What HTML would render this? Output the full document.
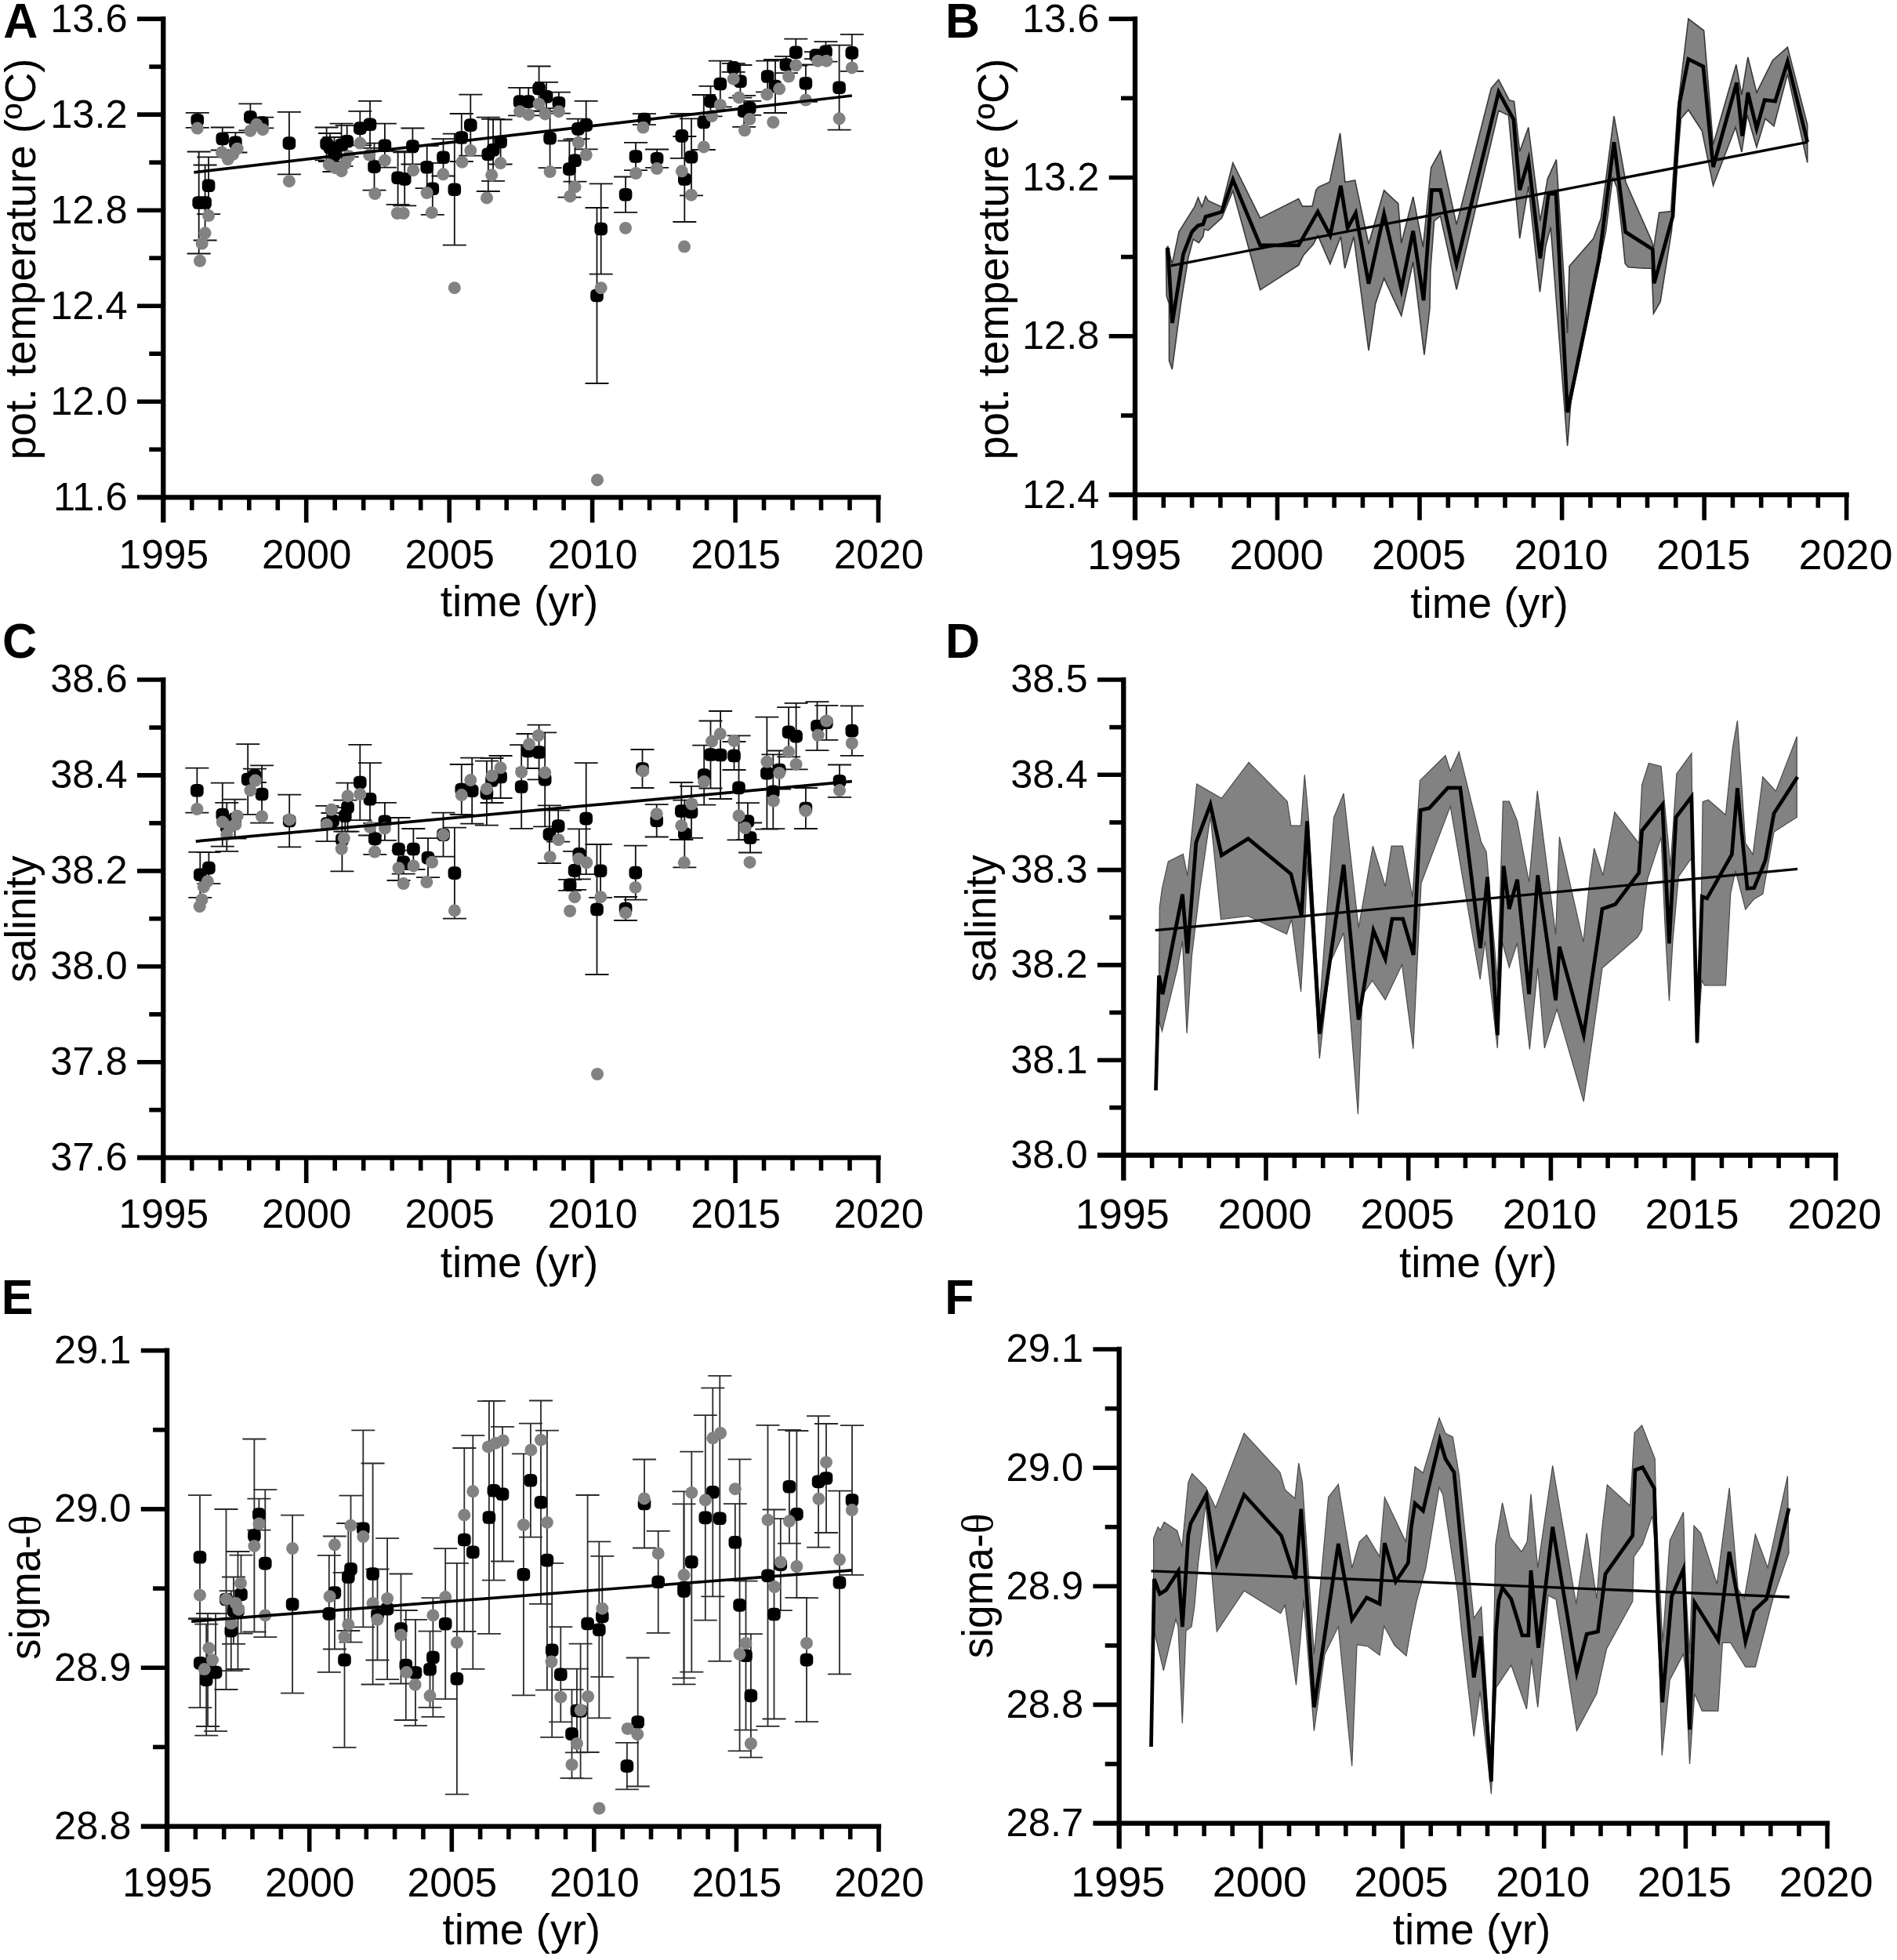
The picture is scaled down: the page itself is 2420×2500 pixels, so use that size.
<!DOCTYPE html>
<html lang="en"><head><meta charset="utf-8"><title>Figure</title>
<style>html,body{margin:0;padding:0;background:#fff}svg{display:block}</style></head>
<body>
<svg width="2420" height="2500" viewBox="0 0 2420 2500">
<rect width="2420" height="2500" fill="#fff"/>
<g stroke="#111" stroke-width="1.8" fill="none">
<path d="M251.8 143.8V162.8M236.8 143.8H266.8M236.8 162.8H266.8"/>
<path d="M283.8 162.5V191.5M268.8 162.5H298.8M268.8 191.5H298.8"/>
<path d="M300.4 169.1V194.5M285.4 169.1H315.4M285.4 194.5H315.4"/>
<path d="M319.4 132.4V166.4M304.4 132.4H334.4M304.4 166.4H334.4"/>
<path d="M334.4 149.6V163.4M319.4 149.6H349.4M319.4 163.4H349.4"/>
<path d="M368.9 142.9V222.3M353.9 142.9H383.9M353.9 222.3H383.9"/>
<path d="M416.6 162.5V204.3M401.6 162.5H431.6M401.6 204.3H431.6"/>
<path d="M421.0 170.0V206.0M406.0 170.0H436.0M406.0 206.0H436.0"/>
<path d="M426.5 175.0V219.0M411.5 175.0H441.5M411.5 219.0H441.5"/>
<path d="M435.6 157.7V212.1M420.6 157.7H450.6M420.6 212.1H450.6"/>
<path d="M442.7 160.2V200.2M427.7 160.2H457.7M427.7 200.2H457.7"/>
<path d="M459.3 141.9V185.3M444.3 141.9H474.3M444.3 185.3H474.3"/>
<path d="M472.0 128.8V188.8M457.0 128.8H487.0M457.0 188.8H487.0"/>
<path d="M490.9 157.7V213.7M475.9 157.7H505.9M475.9 213.7H505.9"/>
<path d="M477.5 182.6V242.6M462.5 182.6H492.5M462.5 242.6H492.5"/>
<path d="M507.6 192.8V260.8M492.6 192.8H522.6M492.6 260.8H522.6"/>
<path d="M516.2 194.4V262.4M501.2 194.4H531.2M501.2 262.4H531.2"/>
<path d="M526.4 163.5V209.5M511.4 163.5H541.4M511.4 209.5H541.4"/>
<path d="M266.1 200.3V273.1M251.1 200.3H281.1M251.1 273.1H281.1"/>
<path d="M253.7 193.5V323.5M238.7 193.5H268.7M238.7 323.5H268.7"/>
<path d="M261.6 210.5V306.5M246.6 210.5H276.6M246.6 306.5H276.6"/>
<path d="M544.7 186.2V240.2M529.7 186.2H559.7M529.7 240.2H559.7"/>
<path d="M565.5 177.1V224.5M550.5 177.1H580.5M550.5 224.5H580.5"/>
<path d="M551.8 207.8V273.8M536.8 207.8H566.8M536.8 273.8H566.8"/>
<path d="M579.8 170.7V312.7M564.8 170.7H594.8M564.8 312.7H594.8"/>
<path d="M588.8 145.0V206.0M573.8 145.0H603.8M573.8 206.0H603.8"/>
<path d="M600.3 120.6V198.6M585.3 120.6H615.3M585.3 198.6H615.3"/>
<path d="M622.8 149.6V244.0M607.8 149.6H637.8M607.8 244.0H637.8"/>
<path d="M629.1 151.8V230.8M614.1 151.8H644.1M614.1 230.8H644.1"/>
<path d="M638.6 152.5V209.5M623.6 152.5H653.6M623.6 209.5H653.6"/>
<path d="M663.1 111.9V147.3M648.1 111.9H678.1M648.1 147.3H678.1"/>
<path d="M674.2 111.9V147.3M659.2 111.9H689.2M659.2 147.3H689.2"/>
<path d="M687.6 84.5V141.5M672.6 84.5H702.6M672.6 141.5H702.6"/>
<path d="M697.1 104.8V141.8M682.1 104.8H712.1M682.1 141.8H712.1"/>
<path d="M712.9 117.7V144.7M697.9 117.7H727.9M697.9 144.7H727.9"/>
<path d="M701.6 138.2V214.2M686.6 138.2H716.6M686.6 214.2H716.6"/>
<path d="M737.5 151.7V177.1M722.5 151.7H752.5M722.5 177.1H752.5"/>
<path d="M747.7 128.8V190.4M732.7 128.8H762.7M732.7 190.4H762.7"/>
<path d="M733.5 177.7V231.7M718.5 177.7H748.5M718.5 231.7H748.5"/>
<path d="M726.4 179.6V251.6M711.4 179.6H741.4M711.4 251.6H741.4"/>
<path d="M811.0 181.8V217.2M796.0 181.8H826.0M796.0 217.2H826.0"/>
<path d="M798.1 225.5V270.9M783.1 225.5H813.1M783.1 270.9H813.1"/>
<path d="M821.9 145.1V159.1M806.9 145.1H836.9M806.9 159.1H836.9"/>
<path d="M838.1 190.5V213.9M823.1 190.5H853.1M823.1 213.9H853.1"/>
<path d="M869.8 144.9V201.9M854.8 144.9H884.8M854.8 201.9H884.8"/>
<path d="M882.0 151.3V249.3M867.0 151.3H897.0M867.0 249.3H897.0"/>
<path d="M873.3 174.0V283.0M858.3 174.0H888.3M858.3 283.0H888.3"/>
<path d="M897.8 121.0V191.0M882.8 121.0H912.8M882.8 191.0H912.8"/>
<path d="M906.5 109.8V148.4M891.5 109.8H921.5M891.5 148.4H921.5"/>
<path d="M918.8 77.7V136.3M903.8 77.7H933.8M903.8 136.3H933.8"/>
<path d="M935.7 80.9V91.9M920.7 80.9H950.7M920.7 91.9H950.7"/>
<path d="M944.4 83.0V124.6M929.4 83.0H959.4M929.4 124.6H959.4"/>
<path d="M949.2 121.8V161.8M934.2 121.8H964.2M934.2 161.8H964.2"/>
<path d="M956.3 128.8V146.8M941.3 128.8H971.3M941.3 146.8H971.3"/>
<path d="M979.2 77.7V117.3M964.2 77.7H994.2M964.2 117.3H994.2"/>
<path d="M989.0 76.0V144.0M974.0 76.0H1004.0M974.0 144.0H1004.0"/>
<path d="M1002.9 71.9V93.1M987.9 71.9H1017.9M987.9 93.1H1017.9"/>
<path d="M1015.3 49.7V83.7M1000.3 49.7H1030.3M1000.3 83.7H1030.3"/>
<path d="M1027.9 82.5V129.9M1012.9 82.5H1042.9M1012.9 129.9H1042.9"/>
<path d="M1040.9 66.1V75.1M1025.9 66.1H1055.9M1025.9 75.1H1055.9"/>
<path d="M1053.5 53.2V78.6M1038.5 53.2H1068.5M1038.5 78.6H1068.5"/>
<path d="M1070.6 57.7V165.7M1055.6 57.7H1085.6M1055.6 165.7H1085.6"/>
<path d="M1086.8 43.9V90.9M1071.8 43.9H1101.8M1071.8 90.9H1101.8"/>
<path d="M766.7 234.3V349.7M751.7 234.3H781.7M751.7 349.7H781.7"/>
<path d="M761.5 265.0V489.0M746.5 265.0H776.5M746.5 489.0H776.5"/>
</g>
<g fill="#000">
<rect x="243.5" y="145.0" width="16.6" height="16.6" rx="5.5"/>
<rect x="275.5" y="168.7" width="16.6" height="16.6" rx="5.5"/>
<rect x="292.1" y="173.5" width="16.6" height="16.6" rx="5.5"/>
<rect x="311.1" y="141.1" width="16.6" height="16.6" rx="5.5"/>
<rect x="326.1" y="148.2" width="16.6" height="16.6" rx="5.5"/>
<rect x="360.6" y="174.3" width="16.6" height="16.6" rx="5.5"/>
<rect x="408.3" y="175.1" width="16.6" height="16.6" rx="5.5"/>
<rect x="412.7" y="179.7" width="16.6" height="16.6" rx="5.5"/>
<rect x="418.2" y="188.7" width="16.6" height="16.6" rx="5.5"/>
<rect x="427.3" y="176.6" width="16.6" height="16.6" rx="5.5"/>
<rect x="434.4" y="171.9" width="16.6" height="16.6" rx="5.5"/>
<rect x="451.0" y="155.3" width="16.6" height="16.6" rx="5.5"/>
<rect x="463.7" y="150.5" width="16.6" height="16.6" rx="5.5"/>
<rect x="482.6" y="177.4" width="16.6" height="16.6" rx="5.5"/>
<rect x="469.2" y="204.3" width="16.6" height="16.6" rx="5.5"/>
<rect x="499.3" y="218.5" width="16.6" height="16.6" rx="5.5"/>
<rect x="507.9" y="220.1" width="16.6" height="16.6" rx="5.5"/>
<rect x="518.1" y="178.2" width="16.6" height="16.6" rx="5.5"/>
<rect x="257.8" y="228.4" width="16.6" height="16.6" rx="5.5"/>
<rect x="245.4" y="250.2" width="16.6" height="16.6" rx="5.5"/>
<rect x="253.3" y="250.2" width="16.6" height="16.6" rx="5.5"/>
<rect x="536.4" y="204.9" width="16.6" height="16.6" rx="5.5"/>
<rect x="557.2" y="192.5" width="16.6" height="16.6" rx="5.5"/>
<rect x="543.5" y="232.5" width="16.6" height="16.6" rx="5.5"/>
<rect x="571.5" y="233.4" width="16.6" height="16.6" rx="5.5"/>
<rect x="580.5" y="167.2" width="16.6" height="16.6" rx="5.5"/>
<rect x="592.0" y="151.3" width="16.6" height="16.6" rx="5.5"/>
<rect x="614.5" y="188.5" width="16.6" height="16.6" rx="5.5"/>
<rect x="620.8" y="183.0" width="16.6" height="16.6" rx="5.5"/>
<rect x="630.3" y="172.7" width="16.6" height="16.6" rx="5.5"/>
<rect x="654.8" y="121.3" width="16.6" height="16.6" rx="5.5"/>
<rect x="665.9" y="121.3" width="16.6" height="16.6" rx="5.5"/>
<rect x="679.3" y="104.7" width="16.6" height="16.6" rx="5.5"/>
<rect x="688.8" y="115.0" width="16.6" height="16.6" rx="5.5"/>
<rect x="704.6" y="122.9" width="16.6" height="16.6" rx="5.5"/>
<rect x="693.3" y="167.9" width="16.6" height="16.6" rx="5.5"/>
<rect x="729.2" y="156.1" width="16.6" height="16.6" rx="5.5"/>
<rect x="739.4" y="151.3" width="16.6" height="16.6" rx="5.5"/>
<rect x="725.2" y="196.4" width="16.6" height="16.6" rx="5.5"/>
<rect x="718.1" y="207.3" width="16.6" height="16.6" rx="5.5"/>
<rect x="802.7" y="191.2" width="16.6" height="16.6" rx="5.5"/>
<rect x="789.8" y="239.9" width="16.6" height="16.6" rx="5.5"/>
<rect x="813.6" y="143.8" width="16.6" height="16.6" rx="5.5"/>
<rect x="829.8" y="193.9" width="16.6" height="16.6" rx="5.5"/>
<rect x="861.5" y="165.1" width="16.6" height="16.6" rx="5.5"/>
<rect x="873.7" y="192.0" width="16.6" height="16.6" rx="5.5"/>
<rect x="865.0" y="220.2" width="16.6" height="16.6" rx="5.5"/>
<rect x="889.5" y="147.7" width="16.6" height="16.6" rx="5.5"/>
<rect x="898.2" y="120.8" width="16.6" height="16.6" rx="5.5"/>
<rect x="910.5" y="98.7" width="16.6" height="16.6" rx="5.5"/>
<rect x="927.4" y="78.1" width="16.6" height="16.6" rx="5.5"/>
<rect x="936.1" y="95.5" width="16.6" height="16.6" rx="5.5"/>
<rect x="940.9" y="133.5" width="16.6" height="16.6" rx="5.5"/>
<rect x="948.0" y="129.5" width="16.6" height="16.6" rx="5.5"/>
<rect x="970.9" y="89.2" width="16.6" height="16.6" rx="5.5"/>
<rect x="980.7" y="101.7" width="16.6" height="16.6" rx="5.5"/>
<rect x="994.6" y="74.2" width="16.6" height="16.6" rx="5.5"/>
<rect x="1007.0" y="58.4" width="16.6" height="16.6" rx="5.5"/>
<rect x="1019.6" y="97.9" width="16.6" height="16.6" rx="5.5"/>
<rect x="1032.6" y="62.3" width="16.6" height="16.6" rx="5.5"/>
<rect x="1045.2" y="57.6" width="16.6" height="16.6" rx="5.5"/>
<rect x="1062.3" y="103.4" width="16.6" height="16.6" rx="5.5"/>
<rect x="1078.5" y="59.1" width="16.6" height="16.6" rx="5.5"/>
<rect x="758.4" y="283.7" width="16.6" height="16.6" rx="5.5"/>
<rect x="753.2" y="368.7" width="16.6" height="16.6" rx="5.5"/>
</g>
<g fill="#828282">
<circle cx="251.8" cy="163.6" r="8"/>
<circle cx="283.0" cy="194.4" r="8"/>
<circle cx="290.9" cy="203.1" r="8"/>
<circle cx="297.2" cy="196.8" r="8"/>
<circle cx="302.7" cy="189.7" r="8"/>
<circle cx="319.4" cy="166.8" r="8"/>
<circle cx="327.3" cy="158.8" r="8"/>
<circle cx="335.2" cy="165.2" r="8"/>
<circle cx="368.9" cy="231.2" r="8"/>
<circle cx="419.8" cy="210.2" r="8"/>
<circle cx="427.7" cy="214.2" r="8"/>
<circle cx="435.6" cy="218.2" r="8"/>
<circle cx="440.3" cy="208.7" r="8"/>
<circle cx="445.1" cy="199.2" r="8"/>
<circle cx="459.3" cy="182.6" r="8"/>
<circle cx="471.2" cy="197.6" r="8"/>
<circle cx="490.9" cy="204.7" r="8"/>
<circle cx="478.3" cy="247.0" r="8"/>
<circle cx="527.2" cy="217.2" r="8"/>
<circle cx="266.1" cy="275.1" r="8"/>
<circle cx="261.6" cy="297.3" r="8"/>
<circle cx="257.7" cy="310.7" r="8"/>
<circle cx="255.0" cy="332.8" r="8"/>
<circle cx="506.8" cy="272.0" r="8"/>
<circle cx="514.7" cy="272.0" r="8"/>
<circle cx="544.6" cy="246.0" r="8"/>
<circle cx="565.4" cy="222.3" r="8"/>
<circle cx="589.5" cy="206.7" r="8"/>
<circle cx="600.3" cy="192.1" r="8"/>
<circle cx="638.4" cy="208.1" r="8"/>
<circle cx="627.2" cy="223.3" r="8"/>
<circle cx="621.0" cy="252.4" r="8"/>
<circle cx="663.1" cy="142.2" r="8"/>
<circle cx="674.2" cy="146.2" r="8"/>
<circle cx="687.6" cy="132.7" r="8"/>
<circle cx="695.5" cy="145.4" r="8"/>
<circle cx="712.9" cy="142.2" r="8"/>
<circle cx="701.6" cy="219.0" r="8"/>
<circle cx="737.9" cy="181.8" r="8"/>
<circle cx="747.7" cy="197.5" r="8"/>
<circle cx="733.5" cy="238.4" r="8"/>
<circle cx="727.2" cy="250.4" r="8"/>
<circle cx="811.2" cy="221.0" r="8"/>
<circle cx="820.4" cy="162.5" r="8"/>
<circle cx="838.0" cy="215.0" r="8"/>
<circle cx="869.8" cy="218.3" r="8"/>
<circle cx="897.8" cy="187.4" r="8"/>
<circle cx="908.1" cy="148.1" r="8"/>
<circle cx="918.8" cy="133.9" r="8"/>
<circle cx="935.7" cy="100.7" r="8"/>
<circle cx="942.8" cy="124.4" r="8"/>
<circle cx="956.3" cy="152.1" r="8"/>
<circle cx="950.0" cy="166.3" r="8"/>
<circle cx="978.4" cy="120.4" r="8"/>
<circle cx="994.2" cy="113.3" r="8"/>
<circle cx="986.3" cy="156.0" r="8"/>
<circle cx="1006.1" cy="97.5" r="8"/>
<circle cx="1015.3" cy="83.3" r="8"/>
<circle cx="1027.9" cy="127.5" r="8"/>
<circle cx="1043.3" cy="77.7" r="8"/>
<circle cx="1054.3" cy="77.7" r="8"/>
<circle cx="1070.6" cy="151.3" r="8"/>
<circle cx="1086.8" cy="86.4" r="8"/>
<circle cx="550.8" cy="271.2" r="8"/>
<circle cx="579.8" cy="367.2" r="8"/>
<circle cx="766.7" cy="367.2" r="8"/>
<circle cx="798.0" cy="290.9" r="8"/>
<circle cx="873.0" cy="314.6" r="8"/>
<circle cx="881.8" cy="248.7" r="8"/>
<circle cx="762.0" cy="612.2" r="8"/>
</g>
<line x1="247.4" y1="219.8" x2="1086.8" y2="122" stroke="#000" stroke-width="3.7"/>
<g stroke="#111" stroke-width="1.8" fill="none">
<path d="M251.4 979.7V1036.7M236.4 979.7H266.4M236.4 1036.7H266.4"/>
<path d="M283.8 998.6V1079.6M268.8 998.6H298.8M268.8 1079.6H298.8"/>
<path d="M299.6 1019.6V1069.6M284.6 1019.6H314.6M284.6 1069.6H314.6"/>
<path d="M289.3 1023.9V1085.9M274.3 1023.9H304.3M274.3 1085.9H304.3"/>
<path d="M255.3 1086.8V1144.8M240.3 1086.8H270.3M240.3 1144.8H270.3"/>
<path d="M266.4 1087.1V1127.1M251.4 1087.1H281.4M251.4 1127.1H281.4"/>
<path d="M316.2 949.2V1038.8M301.2 949.2H331.2M301.2 1038.8H331.2"/>
<path d="M324.9 980.6V998.0M309.9 980.6H339.9M309.9 998.0H339.9"/>
<path d="M334.1 976.3V1049.7M319.1 976.3H349.1M319.1 1049.7H349.1"/>
<path d="M369.2 1013.6V1080.4M354.2 1013.6H384.2M354.2 1080.4H384.2"/>
<path d="M459.3 949.8V1046.2M444.3 949.8H474.3M444.3 1046.2H474.3"/>
<path d="M472.0 973.1V1065.5M457.0 973.1H487.0M457.0 1065.5H487.0"/>
<path d="M443.5 998.6V1060.6M428.5 998.6H458.5M428.5 1060.6H458.5"/>
<path d="M440.3 1020.7V1060.7M425.3 1020.7H455.3M425.3 1060.7H455.3"/>
<path d="M417.4 1027.8V1073.2M402.4 1027.8H432.4M402.4 1073.2H432.4"/>
<path d="M424.5 1037.0V1057.0M409.5 1037.0H439.5M409.5 1057.0H439.5"/>
<path d="M436.4 1030.1V1111.3M421.4 1030.1H451.4M421.4 1111.3H451.4"/>
<path d="M490.9 1023.8V1071.8M475.9 1023.8H505.9M475.9 1071.8H505.9"/>
<path d="M478.3 1049.9V1089.9M463.3 1049.9H493.3M463.3 1089.9H493.3"/>
<path d="M508.5 1043.0V1123.0M493.5 1043.0H523.5M493.5 1123.0H523.5"/>
<path d="M527.4 1057.0V1109.0M512.4 1057.0H542.4M512.4 1109.0H542.4"/>
<path d="M514.7 1084.7V1114.7M499.7 1084.7H529.7M499.7 1114.7H529.7"/>
<path d="M546.0 1069.1V1119.1M531.0 1069.1H561.0M531.0 1119.1H561.0"/>
<path d="M579.9 1055.6V1171.6M564.9 1055.6H594.9M564.9 1171.6H594.9"/>
<path d="M565.5 1036.7V1092.7M550.5 1036.7H580.5M550.5 1092.7H580.5"/>
<path d="M588.8 975.0V1039.0M573.8 975.0H603.8M573.8 1039.0H603.8"/>
<path d="M602.2 966.6V1050.6M587.2 966.6H617.2M587.2 1050.6H617.2"/>
<path d="M620.9 970.7V1052.7M605.9 970.7H635.9M605.9 1052.7H635.9"/>
<path d="M627.5 967.0V1024.0M612.5 967.0H642.5M612.5 1024.0H642.5"/>
<path d="M638.6 964.0V1018.0M623.6 964.0H653.6M623.6 1018.0H653.6"/>
<path d="M665.2 950.1V1056.9M650.2 950.1H680.2M650.2 1056.9H680.2"/>
<path d="M673.4 936.0V980.0M658.4 936.0H688.4M658.4 980.0H688.4"/>
<path d="M687.6 924.7V994.3M672.6 924.7H702.6M672.6 994.3H702.6"/>
<path d="M695.2 934.3V1054.3M680.2 934.3H710.2M680.2 1054.3H710.2"/>
<path d="M700.9 1027.4V1101.0M685.9 1027.4H715.9M685.9 1101.0H715.9"/>
<path d="M712.2 1033.6V1073.6M697.2 1033.6H727.2M697.2 1073.6H727.2"/>
<path d="M747.7 973.1V1115.1M732.7 973.1H762.7M732.7 1115.1H762.7"/>
<path d="M738.8 1057.4V1121.4M723.8 1057.4H753.8M723.8 1121.4H753.8"/>
<path d="M733.1 1085.9V1134.9M718.1 1085.9H748.1M718.1 1134.9H748.1"/>
<path d="M727.1 1121.8V1135.8M712.1 1121.8H742.1M712.1 1135.8H742.1"/>
<path d="M766.1 1076.8V1144.8M751.1 1076.8H781.1M751.1 1144.8H781.1"/>
<path d="M761.5 1077.0V1243.0M746.5 1077.0H776.5M746.5 1243.0H776.5"/>
<path d="M810.8 1078.6V1147.6M795.8 1078.6H825.8M795.8 1147.6H825.8"/>
<path d="M798.1 1144.0V1174.0M783.1 1144.0H813.1M783.1 1174.0H813.1"/>
<path d="M819.5 956.0V1005.0M804.5 956.0H834.5M804.5 1005.0H834.5"/>
<path d="M837.7 1026.1V1067.5M822.7 1026.1H852.7M822.7 1067.5H852.7"/>
<path d="M869.3 998.0V1071.0M854.3 998.0H884.3M854.3 1071.0H884.3"/>
<path d="M882.0 1002.8V1068.8M867.0 1002.8H897.0M867.0 1068.8H897.0"/>
<path d="M873.3 1020.7V1106.3M858.3 1020.7H888.3M858.3 1106.3H888.3"/>
<path d="M898.2 950.6V1026.6M883.2 950.6H913.2M883.2 1026.6H913.2"/>
<path d="M906.5 919.5V1005.5M891.5 919.5H921.5M891.5 1005.5H921.5"/>
<path d="M919.1 907.0V1019.0M904.1 907.0H934.1M904.1 1019.0H934.1"/>
<path d="M936.5 946.0V982.0M921.5 946.0H951.5M921.5 982.0H951.5"/>
<path d="M942.5 938.4V1071.4M927.5 938.4H957.5M927.5 1071.4H957.5"/>
<path d="M957.1 1049.5V1087.5M942.1 1049.5H972.1M942.1 1087.5H972.1"/>
<path d="M953.9 1024.1V1071.1M938.9 1024.1H968.9M938.9 1071.1H968.9"/>
<path d="M978.4 914.7V1057.7M963.4 914.7H993.4M963.4 1057.7H993.4"/>
<path d="M994.2 957.5V1006.5M979.2 957.5H1009.2M979.2 1006.5H1009.2"/>
<path d="M986.3 962.3V1057.1M971.3 962.3H1001.3M971.3 1057.1H1001.3"/>
<path d="M1006.1 902.2V965.4M991.1 902.2H1021.1M991.1 965.4H1021.1"/>
<path d="M1015.6 896.8V981.4M1000.6 896.8H1030.6M1000.6 981.4H1030.6"/>
<path d="M1042.5 895.2V957.2M1027.5 895.2H1057.5M1027.5 957.2H1057.5"/>
<path d="M1054.3 899.8V943.8M1039.3 899.8H1069.3M1039.3 943.8H1069.3"/>
<path d="M1086.8 900.3V963.9M1071.8 900.3H1101.8M1071.8 963.9H1101.8"/>
<path d="M1071.0 975.5V1016.9M1056.0 975.5H1086.0M1056.0 1016.9H1086.0"/>
<path d="M1027.9 1005.0V1057.0M1012.9 1005.0H1042.9M1012.9 1057.0H1042.9"/>
</g>
<g fill="#000">
<rect x="243.1" y="999.9" width="16.6" height="16.6" rx="5.5"/>
<rect x="275.5" y="1030.8" width="16.6" height="16.6" rx="5.5"/>
<rect x="291.3" y="1036.3" width="16.6" height="16.6" rx="5.5"/>
<rect x="281.0" y="1046.6" width="16.6" height="16.6" rx="5.5"/>
<rect x="247.0" y="1107.5" width="16.6" height="16.6" rx="5.5"/>
<rect x="258.1" y="1098.8" width="16.6" height="16.6" rx="5.5"/>
<rect x="307.9" y="985.7" width="16.6" height="16.6" rx="5.5"/>
<rect x="316.6" y="981.0" width="16.6" height="16.6" rx="5.5"/>
<rect x="325.8" y="1004.7" width="16.6" height="16.6" rx="5.5"/>
<rect x="360.9" y="1038.7" width="16.6" height="16.6" rx="5.5"/>
<rect x="451.0" y="989.7" width="16.6" height="16.6" rx="5.5"/>
<rect x="463.7" y="1011.0" width="16.6" height="16.6" rx="5.5"/>
<rect x="435.2" y="1021.3" width="16.6" height="16.6" rx="5.5"/>
<rect x="432.0" y="1032.4" width="16.6" height="16.6" rx="5.5"/>
<rect x="409.1" y="1042.2" width="16.6" height="16.6" rx="5.5"/>
<rect x="416.2" y="1038.7" width="16.6" height="16.6" rx="5.5"/>
<rect x="428.1" y="1062.4" width="16.6" height="16.6" rx="5.5"/>
<rect x="482.6" y="1039.5" width="16.6" height="16.6" rx="5.5"/>
<rect x="470.0" y="1061.6" width="16.6" height="16.6" rx="5.5"/>
<rect x="500.2" y="1074.7" width="16.6" height="16.6" rx="5.5"/>
<rect x="519.1" y="1074.7" width="16.6" height="16.6" rx="5.5"/>
<rect x="506.4" y="1091.4" width="16.6" height="16.6" rx="5.5"/>
<rect x="537.7" y="1085.8" width="16.6" height="16.6" rx="5.5"/>
<rect x="571.6" y="1105.3" width="16.6" height="16.6" rx="5.5"/>
<rect x="557.2" y="1056.4" width="16.6" height="16.6" rx="5.5"/>
<rect x="580.5" y="998.7" width="16.6" height="16.6" rx="5.5"/>
<rect x="593.9" y="1000.3" width="16.6" height="16.6" rx="5.5"/>
<rect x="612.6" y="1003.4" width="16.6" height="16.6" rx="5.5"/>
<rect x="619.2" y="987.2" width="16.6" height="16.6" rx="5.5"/>
<rect x="630.3" y="982.7" width="16.6" height="16.6" rx="5.5"/>
<rect x="656.9" y="995.2" width="16.6" height="16.6" rx="5.5"/>
<rect x="665.1" y="949.7" width="16.6" height="16.6" rx="5.5"/>
<rect x="679.3" y="951.2" width="16.6" height="16.6" rx="5.5"/>
<rect x="686.9" y="986.0" width="16.6" height="16.6" rx="5.5"/>
<rect x="692.6" y="1055.9" width="16.6" height="16.6" rx="5.5"/>
<rect x="703.9" y="1045.3" width="16.6" height="16.6" rx="5.5"/>
<rect x="739.4" y="1035.8" width="16.6" height="16.6" rx="5.5"/>
<rect x="730.5" y="1081.1" width="16.6" height="16.6" rx="5.5"/>
<rect x="724.8" y="1102.1" width="16.6" height="16.6" rx="5.5"/>
<rect x="718.8" y="1120.5" width="16.6" height="16.6" rx="5.5"/>
<rect x="757.8" y="1102.5" width="16.6" height="16.6" rx="5.5"/>
<rect x="753.2" y="1151.7" width="16.6" height="16.6" rx="5.5"/>
<rect x="802.5" y="1104.8" width="16.6" height="16.6" rx="5.5"/>
<rect x="789.8" y="1150.7" width="16.6" height="16.6" rx="5.5"/>
<rect x="811.2" y="972.2" width="16.6" height="16.6" rx="5.5"/>
<rect x="829.4" y="1038.5" width="16.6" height="16.6" rx="5.5"/>
<rect x="861.0" y="1026.2" width="16.6" height="16.6" rx="5.5"/>
<rect x="873.7" y="1027.5" width="16.6" height="16.6" rx="5.5"/>
<rect x="865.0" y="1055.2" width="16.6" height="16.6" rx="5.5"/>
<rect x="889.9" y="980.3" width="16.6" height="16.6" rx="5.5"/>
<rect x="898.2" y="954.2" width="16.6" height="16.6" rx="5.5"/>
<rect x="910.8" y="954.7" width="16.6" height="16.6" rx="5.5"/>
<rect x="928.2" y="955.7" width="16.6" height="16.6" rx="5.5"/>
<rect x="934.2" y="996.6" width="16.6" height="16.6" rx="5.5"/>
<rect x="948.8" y="1060.2" width="16.6" height="16.6" rx="5.5"/>
<rect x="945.6" y="1039.3" width="16.6" height="16.6" rx="5.5"/>
<rect x="970.1" y="977.9" width="16.6" height="16.6" rx="5.5"/>
<rect x="985.9" y="973.7" width="16.6" height="16.6" rx="5.5"/>
<rect x="978.0" y="1001.4" width="16.6" height="16.6" rx="5.5"/>
<rect x="997.8" y="925.5" width="16.6" height="16.6" rx="5.5"/>
<rect x="1007.3" y="930.8" width="16.6" height="16.6" rx="5.5"/>
<rect x="1034.2" y="917.9" width="16.6" height="16.6" rx="5.5"/>
<rect x="1046.0" y="913.5" width="16.6" height="16.6" rx="5.5"/>
<rect x="1078.5" y="923.8" width="16.6" height="16.6" rx="5.5"/>
<rect x="1062.7" y="987.9" width="16.6" height="16.6" rx="5.5"/>
<rect x="1019.6" y="1022.7" width="16.6" height="16.6" rx="5.5"/>
</g>
<g fill="#828282">
<circle cx="251.4" cy="1032.0" r="8"/>
<circle cx="283.8" cy="1048.6" r="8"/>
<circle cx="293.3" cy="1054.9" r="8"/>
<circle cx="302.7" cy="1040.7" r="8"/>
<circle cx="289.3" cy="1064.4" r="8"/>
<circle cx="300.4" cy="1051.7" r="8"/>
<circle cx="325.7" cy="995.6" r="8"/>
<circle cx="319.4" cy="1008.2" r="8"/>
<circle cx="334.1" cy="1041.4" r="8"/>
<circle cx="369.2" cy="1045.4" r="8"/>
<circle cx="422.9" cy="1032.7" r="8"/>
<circle cx="416.6" cy="1051.7" r="8"/>
<circle cx="443.5" cy="1015.4" r="8"/>
<circle cx="459.3" cy="1013.0" r="8"/>
<circle cx="438.8" cy="1069.1" r="8"/>
<circle cx="435.7" cy="1082.7" r="8"/>
<circle cx="472.0" cy="1054.9" r="8"/>
<circle cx="490.9" cy="1056.5" r="8"/>
<circle cx="478.1" cy="1086.6" r="8"/>
<circle cx="508.5" cy="1107.2" r="8"/>
<circle cx="527.5" cy="1104.4" r="8"/>
<circle cx="514.7" cy="1127.1" r="8"/>
<circle cx="264.8" cy="1124.2" r="8"/>
<circle cx="259.8" cy="1131.3" r="8"/>
<circle cx="257.5" cy="1147.5" r="8"/>
<circle cx="254.7" cy="1156.2" r="8"/>
<circle cx="551.1" cy="1099.8" r="8"/>
<circle cx="544.3" cy="1125.1" r="8"/>
<circle cx="579.9" cy="1161.4" r="8"/>
<circle cx="565.5" cy="1064.7" r="8"/>
<circle cx="588.8" cy="1014.1" r="8"/>
<circle cx="600.3" cy="995.1" r="8"/>
<circle cx="620.9" cy="1006.2" r="8"/>
<circle cx="627.5" cy="989.6" r="8"/>
<circle cx="638.6" cy="979.3" r="8"/>
<circle cx="665.2" cy="984.8" r="8"/>
<circle cx="675.0" cy="949.3" r="8"/>
<circle cx="686.8" cy="938.2" r="8"/>
<circle cx="695.2" cy="985.6" r="8"/>
<circle cx="712.4" cy="1071.2" r="8"/>
<circle cx="701.7" cy="1093.2" r="8"/>
<circle cx="738.2" cy="1095.5" r="8"/>
<circle cx="748.3" cy="1100.3" r="8"/>
<circle cx="820.4" cy="983.4" r="8"/>
<circle cx="837.7" cy="1038.2" r="8"/>
<circle cx="882.4" cy="1025.5" r="8"/>
<circle cx="869.3" cy="1053.2" r="8"/>
<circle cx="898.2" cy="997.0" r="8"/>
<circle cx="908.1" cy="945.6" r="8"/>
<circle cx="918.8" cy="936.1" r="8"/>
<circle cx="936.5" cy="944.8" r="8"/>
<circle cx="942.5" cy="1040.5" r="8"/>
<circle cx="950.7" cy="1056.0" r="8"/>
<circle cx="978.4" cy="971.7" r="8"/>
<circle cx="994.2" cy="986.0" r="8"/>
<circle cx="986.8" cy="1021.5" r="8"/>
<circle cx="1006.1" cy="959.1" r="8"/>
<circle cx="1015.6" cy="974.9" r="8"/>
<circle cx="1043.7" cy="937.7" r="8"/>
<circle cx="1054.3" cy="919.5" r="8"/>
<circle cx="1086.8" cy="948.0" r="8"/>
<circle cx="1071.0" cy="1008.1" r="8"/>
<circle cx="1027.9" cy="1034.2" r="8"/>
<circle cx="733.1" cy="1144.2" r="8"/>
<circle cx="727.1" cy="1162.0" r="8"/>
<circle cx="766.3" cy="1144.2" r="8"/>
<circle cx="810.6" cy="1131.9" r="8"/>
<circle cx="798.1" cy="1164.4" r="8"/>
<circle cx="872.8" cy="1100.3" r="8"/>
<circle cx="956.5" cy="1099.9" r="8"/>
<circle cx="762.0" cy="1370.0" r="8"/>
</g>
<line x1="249.8" y1="1073.1" x2="1086.8" y2="996.7" stroke="#000" stroke-width="3.7"/>
<g stroke="#2a2a2a" stroke-width="1.8" fill="none">
<path d="M255.0 1907.2V2065.2M240.0 1907.2H270.0M240.0 2065.2H270.0"/>
<path d="M330.4 1911.6V1951.6M315.4 1911.6H345.4M315.4 1951.6H345.4"/>
<path d="M324.4 1835.5V2081.5M309.4 1835.5H339.4M309.4 2081.5H339.4"/>
<path d="M338.3 1900.1V2088.1M323.3 1900.1H353.3M323.3 2088.1H353.3"/>
<path d="M373.1 1932.7V2159.7M358.1 1932.7H388.1M358.1 2159.7H388.1"/>
<path d="M307.5 1983.6V2083.6M292.5 1983.6H322.5M292.5 2083.6H322.5"/>
<path d="M288.5 1925.0V2155.0M273.5 1925.0H303.5M273.5 2155.0H303.5"/>
<path d="M303.5 1979.0V2129.0M288.5 1979.0H318.5M288.5 2129.0H318.5"/>
<path d="M298.0 2011.5V2096.9M283.0 2011.5H313.0M283.0 2096.9H313.0"/>
<path d="M426.9 1959.5V2103.5M411.9 1959.5H441.9M411.9 2103.5H441.9"/>
<path d="M419.8 1983.9V2132.9M404.8 1983.9H434.8M404.8 2132.9H434.8"/>
<path d="M447.5 1907.7V2094.7M432.5 1907.7H462.5M432.5 2094.7H462.5"/>
<path d="M444.3 1943.0V2080.0M429.3 1943.0H459.3M429.3 2080.0H459.3"/>
<path d="M463.3 1824.3V2075.3M448.3 1824.3H478.3M448.3 2075.3H478.3"/>
<path d="M475.6 1866.5V2148.5M460.6 1866.5H490.6M460.6 2148.5H490.6"/>
<path d="M494.1 1962.1V2142.1M479.1 1962.1H509.1M479.1 2142.1H509.1"/>
<path d="M481.5 2001.5V2117.5M466.5 2001.5H496.5M466.5 2117.5H496.5"/>
<path d="M511.5 2007.5V2147.5M496.5 2007.5H526.5M496.5 2147.5H526.5"/>
<path d="M517.8 2054.0V2194.0M502.8 2054.0H532.8M502.8 2194.0H532.8"/>
<path d="M530.0 2065.9V2201.1M515.0 2065.9H545.0M515.0 2201.1H545.0"/>
<path d="M255.3 2064.2V2178.2M240.3 2064.2H270.3M240.3 2178.2H270.3"/>
<path d="M263.2 2071.6V2213.6M248.2 2071.6H278.2M248.2 2213.6H278.2"/>
<path d="M275.1 2058.1V2208.1M260.1 2058.1H290.1M260.1 2208.1H290.1"/>
<path d="M265.1 2058.0V2202.0M250.1 2058.0H280.1M250.1 2202.0H280.1"/>
<path d="M294.8 2029.1V2131.1M279.8 2029.1H309.8M279.8 2131.1H309.8"/>
<path d="M439.5 2005.8V2228.8M424.5 2005.8H454.5M424.5 2228.8H454.5"/>
<path d="M592.3 1847.0V2081.0M577.3 1847.0H607.3M577.3 2081.0H607.3"/>
<path d="M603.3 1830.8V2128.8M588.3 1830.8H618.3M588.3 2128.8H618.3"/>
<path d="M623.9 1787.2V2083.8M608.9 1787.2H638.9M608.9 2083.8H638.9"/>
<path d="M629.9 1786.9V2015.7M614.9 1786.9H644.9M614.9 2015.7H644.9"/>
<path d="M641.0 1819.9V1991.5M626.0 1819.9H656.0M626.0 1991.5H656.0"/>
<path d="M676.9 1815.7V1960.7M661.9 1815.7H691.9M661.9 1960.7H691.9"/>
<path d="M690.0 1786.5V2045.9M675.0 1786.5H705.0M675.0 2045.9H705.0"/>
<path d="M697.9 1824.6V2155.6M682.9 1824.6H712.9M682.9 2155.6H712.9"/>
<path d="M667.9 1854.3V2162.3M652.9 1854.3H682.9M652.9 2162.3H682.9"/>
<path d="M768.3 1984.9V2138.9M753.3 1984.9H783.3M753.3 2138.9H783.3"/>
<path d="M822.0 1861.5V1974.5M807.0 1861.5H837.0M807.0 1974.5H837.0"/>
<path d="M568.2 1975.2V2167.2M553.2 1975.2H583.2M553.2 2167.2H583.2"/>
<path d="M552.4 2038.2V2189.8M537.4 2038.2H567.4M537.4 2189.8H567.4"/>
<path d="M548.5 2080.7V2177.9M533.5 2080.7H563.5M533.5 2177.9H563.5"/>
<path d="M582.9 1993.8V2288.6M567.9 1993.8H597.9M567.9 2288.6H597.9"/>
<path d="M704.2 1993.8V2215.8M689.2 1993.8H719.2M689.2 2215.8H719.2"/>
<path d="M715.3 2075.1V2196.3M700.3 2075.1H730.3M700.3 2196.3H730.3"/>
<path d="M735.9 2128.6V2235.4M720.9 2128.6H750.9M720.9 2235.4H750.9"/>
<path d="M740.6 2096.7V2268.3M725.6 2096.7H755.6M725.6 2268.3H755.6"/>
<path d="M729.5 2155.1V2268.1M714.5 2155.1H744.5M714.5 2268.1H744.5"/>
<path d="M749.6 1907.0V2235.0M734.6 1907.0H764.6M734.6 2235.0H764.6"/>
<path d="M764.3 1966.3V2191.3M749.3 1966.3H779.3M749.3 2191.3H779.3"/>
<path d="M813.7 2114.5V2278.5M798.7 2114.5H828.7M798.7 2278.5H828.7"/>
<path d="M799.9 2222.8V2282.4M784.9 2222.8H814.9M784.9 2282.4H814.9"/>
<path d="M839.7 1952.8V2082.8M824.7 1952.8H854.7M824.7 2082.8H854.7"/>
<path d="M882.3 1851.7V2132.7M867.3 1851.7H897.3M867.3 2132.7H897.3"/>
<path d="M872.5 1918.4V2140.4M857.5 1918.4H887.5M857.5 2140.4H887.5"/>
<path d="M872.5 1902.4V2148.4M857.5 1902.4H887.5M857.5 2148.4H887.5"/>
<path d="M899.8 1805.1V2066.7M884.8 1805.1H914.8M884.8 2066.7H914.8"/>
<path d="M909.3 1770.3V2036.3M894.3 1770.3H924.3M894.3 2036.3H924.3"/>
<path d="M918.3 1754.8V2118.8M903.3 1754.8H933.3M903.3 2118.8H933.3"/>
<path d="M937.8 1918.2V2016.2M922.8 1918.2H952.8M922.8 2016.2H952.8"/>
<path d="M943.6 1861.4V2233.4M928.6 1861.4H958.6M928.6 2233.4H958.6"/>
<path d="M979.5 1817.9V2201.9M964.5 1817.9H994.5M964.5 2201.9H994.5"/>
<path d="M1006.9 1823.8V1968.6M991.9 1823.8H1021.9M991.9 1968.6H1021.9"/>
<path d="M1016.4 1825.0V2037.8M1001.4 1825.0H1031.4M1001.4 2037.8H1031.4"/>
<path d="M995.8 1937.1V2054.1M980.8 1937.1H1010.8M980.8 2054.1H1010.8"/>
<path d="M987.5 1925.5V2192.5M972.5 1925.5H1002.5M972.5 2192.5H1002.5"/>
<path d="M1044.1 1806.2V1973.6M1029.1 1806.2H1059.1M1029.1 1973.6H1059.1"/>
<path d="M1054.0 1816.0V1955.0M1039.0 1816.0H1069.0M1039.0 1955.0H1069.0"/>
<path d="M1087.0 1818.1V2008.9M1072.0 1818.1H1102.0M1072.0 2008.9H1102.0"/>
<path d="M1071.0 1901.7V2135.3M1056.0 1901.7H1086.0M1056.0 2135.3H1086.0"/>
<path d="M951.5 2016.7V2206.7M936.5 2016.7H966.5M936.5 2206.7H966.5"/>
<path d="M957.9 2084.2V2241.6M942.9 2084.2H972.9M942.9 2241.6H972.9"/>
<path d="M1029.0 2038.1V2196.1M1014.0 2038.1H1044.0M1014.0 2196.1H1044.0"/>
</g>
<g fill="#000">
<rect x="246.7" y="1977.9" width="16.6" height="16.6" rx="5.5"/>
<rect x="322.1" y="1923.3" width="16.6" height="16.6" rx="5.5"/>
<rect x="316.1" y="1950.2" width="16.6" height="16.6" rx="5.5"/>
<rect x="330.0" y="1985.8" width="16.6" height="16.6" rx="5.5"/>
<rect x="364.8" y="2037.9" width="16.6" height="16.6" rx="5.5"/>
<rect x="299.2" y="2025.3" width="16.6" height="16.6" rx="5.5"/>
<rect x="280.2" y="2031.7" width="16.6" height="16.6" rx="5.5"/>
<rect x="295.2" y="2045.7" width="16.6" height="16.6" rx="5.5"/>
<rect x="289.7" y="2045.9" width="16.6" height="16.6" rx="5.5"/>
<rect x="418.6" y="2023.2" width="16.6" height="16.6" rx="5.5"/>
<rect x="411.5" y="2050.1" width="16.6" height="16.6" rx="5.5"/>
<rect x="439.2" y="1992.9" width="16.6" height="16.6" rx="5.5"/>
<rect x="436.0" y="2003.2" width="16.6" height="16.6" rx="5.5"/>
<rect x="455.0" y="1941.5" width="16.6" height="16.6" rx="5.5"/>
<rect x="467.3" y="1999.2" width="16.6" height="16.6" rx="5.5"/>
<rect x="485.8" y="2043.8" width="16.6" height="16.6" rx="5.5"/>
<rect x="473.2" y="2051.2" width="16.6" height="16.6" rx="5.5"/>
<rect x="503.2" y="2069.2" width="16.6" height="16.6" rx="5.5"/>
<rect x="509.5" y="2115.7" width="16.6" height="16.6" rx="5.5"/>
<rect x="521.7" y="2125.2" width="16.6" height="16.6" rx="5.5"/>
<rect x="247.0" y="2112.9" width="16.6" height="16.6" rx="5.5"/>
<rect x="254.9" y="2134.3" width="16.6" height="16.6" rx="5.5"/>
<rect x="266.8" y="2124.8" width="16.6" height="16.6" rx="5.5"/>
<rect x="256.8" y="2121.7" width="16.6" height="16.6" rx="5.5"/>
<rect x="286.5" y="2071.8" width="16.6" height="16.6" rx="5.5"/>
<rect x="431.2" y="2109.0" width="16.6" height="16.6" rx="5.5"/>
<rect x="584.0" y="1955.7" width="16.6" height="16.6" rx="5.5"/>
<rect x="595.0" y="1971.5" width="16.6" height="16.6" rx="5.5"/>
<rect x="615.6" y="1927.2" width="16.6" height="16.6" rx="5.5"/>
<rect x="621.6" y="1893.0" width="16.6" height="16.6" rx="5.5"/>
<rect x="632.7" y="1897.4" width="16.6" height="16.6" rx="5.5"/>
<rect x="668.6" y="1879.9" width="16.6" height="16.6" rx="5.5"/>
<rect x="681.7" y="1907.9" width="16.6" height="16.6" rx="5.5"/>
<rect x="689.6" y="1981.8" width="16.6" height="16.6" rx="5.5"/>
<rect x="659.6" y="2000.0" width="16.6" height="16.6" rx="5.5"/>
<rect x="760.0" y="2053.6" width="16.6" height="16.6" rx="5.5"/>
<rect x="813.7" y="1909.7" width="16.6" height="16.6" rx="5.5"/>
<rect x="559.9" y="2062.9" width="16.6" height="16.6" rx="5.5"/>
<rect x="544.1" y="2105.7" width="16.6" height="16.6" rx="5.5"/>
<rect x="540.2" y="2121.0" width="16.6" height="16.6" rx="5.5"/>
<rect x="574.6" y="2132.9" width="16.6" height="16.6" rx="5.5"/>
<rect x="695.9" y="2096.5" width="16.6" height="16.6" rx="5.5"/>
<rect x="707.0" y="2127.4" width="16.6" height="16.6" rx="5.5"/>
<rect x="727.6" y="2173.7" width="16.6" height="16.6" rx="5.5"/>
<rect x="732.3" y="2174.2" width="16.6" height="16.6" rx="5.5"/>
<rect x="721.2" y="2203.3" width="16.6" height="16.6" rx="5.5"/>
<rect x="741.3" y="2062.7" width="16.6" height="16.6" rx="5.5"/>
<rect x="756.0" y="2070.5" width="16.6" height="16.6" rx="5.5"/>
<rect x="805.4" y="2188.2" width="16.6" height="16.6" rx="5.5"/>
<rect x="791.6" y="2244.3" width="16.6" height="16.6" rx="5.5"/>
<rect x="831.4" y="2009.5" width="16.6" height="16.6" rx="5.5"/>
<rect x="874.0" y="1983.9" width="16.6" height="16.6" rx="5.5"/>
<rect x="864.2" y="2021.1" width="16.6" height="16.6" rx="5.5"/>
<rect x="864.2" y="2017.1" width="16.6" height="16.6" rx="5.5"/>
<rect x="891.5" y="1927.6" width="16.6" height="16.6" rx="5.5"/>
<rect x="901.0" y="1895.0" width="16.6" height="16.6" rx="5.5"/>
<rect x="910.0" y="1928.5" width="16.6" height="16.6" rx="5.5"/>
<rect x="929.5" y="1958.9" width="16.6" height="16.6" rx="5.5"/>
<rect x="935.3" y="2039.1" width="16.6" height="16.6" rx="5.5"/>
<rect x="971.2" y="2001.6" width="16.6" height="16.6" rx="5.5"/>
<rect x="998.6" y="1887.9" width="16.6" height="16.6" rx="5.5"/>
<rect x="1008.1" y="1923.1" width="16.6" height="16.6" rx="5.5"/>
<rect x="987.5" y="1987.3" width="16.6" height="16.6" rx="5.5"/>
<rect x="979.2" y="2050.7" width="16.6" height="16.6" rx="5.5"/>
<rect x="1035.8" y="1881.6" width="16.6" height="16.6" rx="5.5"/>
<rect x="1045.7" y="1877.2" width="16.6" height="16.6" rx="5.5"/>
<rect x="1078.7" y="1905.2" width="16.6" height="16.6" rx="5.5"/>
<rect x="1062.7" y="2010.2" width="16.6" height="16.6" rx="5.5"/>
<rect x="943.2" y="2103.4" width="16.6" height="16.6" rx="5.5"/>
<rect x="949.6" y="2154.6" width="16.6" height="16.6" rx="5.5"/>
<rect x="1020.7" y="2108.8" width="16.6" height="16.6" rx="5.5"/>
</g>
<g fill="#828282">
<circle cx="255.0" cy="2034.7" r="8"/>
<circle cx="330.4" cy="1943.5" r="8"/>
<circle cx="324.4" cy="1971.9" r="8"/>
<circle cx="373.1" cy="1975.1" r="8"/>
<circle cx="307.0" cy="2019.4" r="8"/>
<circle cx="288.5" cy="2039.8" r="8"/>
<circle cx="300.8" cy="2045.0" r="8"/>
<circle cx="304.3" cy="2052.9" r="8"/>
<circle cx="426.9" cy="1970.3" r="8"/>
<circle cx="447.5" cy="1945.8" r="8"/>
<circle cx="463.3" cy="1960.1" r="8"/>
<circle cx="420.6" cy="2036.3" r="8"/>
<circle cx="475.6" cy="2045.0" r="8"/>
<circle cx="494.1" cy="2039.0" r="8"/>
<circle cx="338.3" cy="2060.4" r="8"/>
<circle cx="294.8" cy="2070.6" r="8"/>
<circle cx="266.4" cy="2102.2" r="8"/>
<circle cx="271.1" cy="2117.3" r="8"/>
<circle cx="260.8" cy="2129.1" r="8"/>
<circle cx="444.3" cy="2072.2" r="8"/>
<circle cx="439.5" cy="2088.0" r="8"/>
<circle cx="481.5" cy="2065.9" r="8"/>
<circle cx="511.5" cy="2085.6" r="8"/>
<circle cx="518.6" cy="2133.1" r="8"/>
<circle cx="529.6" cy="2148.9" r="8"/>
<circle cx="603.3" cy="1902.3" r="8"/>
<circle cx="592.3" cy="1932.4" r="8"/>
<circle cx="622.8" cy="1845.4" r="8"/>
<circle cx="632.3" cy="1840.7" r="8"/>
<circle cx="641.8" cy="1837.5" r="8"/>
<circle cx="677.4" cy="1849.4" r="8"/>
<circle cx="690.0" cy="1836.7" r="8"/>
<circle cx="667.9" cy="1945.0" r="8"/>
<circle cx="697.9" cy="1941.9" r="8"/>
<circle cx="568.2" cy="2037.1" r="8"/>
<circle cx="552.4" cy="2060.4" r="8"/>
<circle cx="768.3" cy="2051.7" r="8"/>
<circle cx="821.8" cy="1911.4" r="8"/>
<circle cx="582.9" cy="2095.1" r="8"/>
<circle cx="548.5" cy="2163.1" r="8"/>
<circle cx="703.5" cy="2119.6" r="8"/>
<circle cx="715.3" cy="2164.7" r="8"/>
<circle cx="750.1" cy="2163.9" r="8"/>
<circle cx="740.6" cy="2181.3" r="8"/>
<circle cx="735.9" cy="2224.0" r="8"/>
<circle cx="729.5" cy="2250.9" r="8"/>
<circle cx="764.4" cy="2306.5" r="8"/>
<circle cx="800.7" cy="2205.0" r="8"/>
<circle cx="813.3" cy="2212.2" r="8"/>
<circle cx="839.7" cy="1981.4" r="8"/>
<circle cx="882.3" cy="1903.9" r="8"/>
<circle cx="872.5" cy="2009.1" r="8"/>
<circle cx="899.8" cy="1913.4" r="8"/>
<circle cx="909.3" cy="1834.3" r="8"/>
<circle cx="919.1" cy="1828.0" r="8"/>
<circle cx="937.8" cy="1899.2" r="8"/>
<circle cx="979.5" cy="1938.7" r="8"/>
<circle cx="1006.9" cy="1940.3" r="8"/>
<circle cx="995.8" cy="1992.5" r="8"/>
<circle cx="1016.4" cy="1998.0" r="8"/>
<circle cx="987.9" cy="2024.0" r="8"/>
<circle cx="1044.4" cy="1911.8" r="8"/>
<circle cx="1054.0" cy="1865.2" r="8"/>
<circle cx="1086.8" cy="1926.1" r="8"/>
<circle cx="1071.0" cy="1989.3" r="8"/>
<circle cx="951.5" cy="2095.9" r="8"/>
<circle cx="943.6" cy="2110.1" r="8"/>
<circle cx="957.9" cy="2224.0" r="8"/>
<circle cx="1029.0" cy="2095.9" r="8"/>
</g>
<line x1="244.2" y1="2068.2" x2="1086.8" y2="2002.8" stroke="#000" stroke-width="3.7"/>
<path d="M1489.8 314.5L1495.3 336.6L1504.0 295.5L1523.8 263.9L1528.5 252.0L1533.3 263.9L1538.0 250.4L1541.2 256.0L1558.6 263.9L1572.8 207.7L1607.6 278.1L1656.6 253.6L1661.4 263.1L1674.0 263.1L1678.8 242.5L1681.9 238.6L1696.2 232.2L1709.6 169.8L1715.9 232.2L1728.6 229.9L1746.0 311.3L1765.6 242.8L1783.7 259.7L1787.7 310.3L1802.7 251.0L1815.4 315.1L1825.6 213.9L1837.5 192.5L1858.1 286.6L1902.3 112.7L1911.8 101.6L1925.3 127.7L1931.6 129.3L1938.7 193.3L1949.8 162.5L1964.8 281.9L1974.3 228.1L1985.4 203.6L1999.6 425.0L2002.0 339.5L2032.7 304.4L2042.2 279.1L2059.0 148.1L2074.0 232.5L2107.1 307.5L2109.4 317.0L2116.6 271.2L2131.6 269.6L2140.0 140.0L2153.9 24.0L2173.6 39.0L2185.5 184.5L2214.8 82.5L2221.9 121.2L2229.8 73.0L2240.9 118.1L2261.4 76.9L2280.4 60.3L2305.7 159.2L2305.7 207.4L2280.4 94.3L2263.0 160.8L2251.9 151.3L2240.9 187.6L2229.0 146.5L2221.9 194.0L2214.0 162.3L2185.5 236.7L2171.3 167.1L2153.9 140.2L2144.4 151.3L2132.4 294.9L2118.1 385.0L2109.4 400.0L2107.1 342.3L2097.6 342.3L2077.0 340.8L2073.1 336.0L2069.1 294.9L2062.8 239.5L2057.4 225.6L2048.6 294.9L2004.0 512.0L1999.6 568.8L1978.2 289.8L1971.9 313.5L1964.4 372.4L1949.8 237.6L1938.7 304.0L1924.5 147.4L1911.8 141.1L1858.1 369.2L1837.5 275.5L1829.6 281.9L1824.8 345.0L1824.0 393.0L1816.9 452.6L1802.7 334.0L1787.7 402.7L1765.6 355.0L1754.7 387.2L1746.0 447.2L1727.0 301.8L1715.6 342.2L1710.4 301.8L1696.9 336.6L1681.1 300.2L1675.6 311.3L1662.9 325.5L1656.6 338.2L1607.6 369.8L1572.8 243.3L1558.6 278.1L1541.2 293.9L1536.4 292.3L1534.8 301.8L1529.3 309.7L1522.2 305.0L1515.9 328.7L1506.4 387.2L1495.3 470.9L1491.5 460.0L1491.4 387.2L1488.2 377.7L1487.4 317.6Z" fill="#828282" stroke="#3a3a3a" stroke-width="1.6" stroke-linejoin="miter"/>
<path d="M1489.8 316.1L1495.5 412.0L1509.5 324.0L1520.6 295.5L1528.5 287.6L1534.8 286.0L1538.0 276.5L1558.6 270.2L1572.8 229.1L1607.6 312.9L1656.6 312.9L1681.1 270.2L1696.9 300.2L1710.4 237.0L1719.1 290.8L1729.4 271.8L1746.0 361.9L1765.6 272.9L1787.7 368.9L1802.7 294.5L1816.1 383.1L1826.4 242.3L1837.5 242.3L1858.1 337.2L1911.8 117.4L1930.8 152.2L1938.7 242.3L1949.8 204.4L1964.8 329.5L1975.4 247.2L1985.0 247.2L1999.6 526.1L2040.0 330.0L2059.0 181.3L2073.5 295.8L2108.3 318.0L2110.2 361.3L2134.0 275.9L2142.8 130.7L2153.9 75.4L2172.8 84.8L2185.5 213.0L2215.5 105.4L2222.7 173.4L2229.8 118.1L2240.9 163.9L2251.1 127.5L2264.6 129.1L2280.4 78.5L2305.7 181.3" fill="none" stroke="#000" stroke-width="4.7" stroke-linejoin="miter" stroke-miterlimit="5"/>
<line x1="1493.7" y1="339" x2="2305.7" y2="181.3" stroke="#000" stroke-width="3.3"/>
<path d="M1478.0 1300.0L1479.3 1156.7L1482.4 1133.7L1490.3 1098.9L1509.3 1089.5L1514.8 1117.1L1526.7 1000.1L1558.3 1018.3L1593.1 972.4L1642.2 1022.2L1646.9 1053.1L1659.6 1053.1L1664.3 988.2L1669.0 1040.0L1683.3 1287.0L1701.5 1042.8L1714.1 1012.0L1733.1 1183.5L1751.4 1079.2L1767.2 1130.6L1775.1 1079.2L1789.3 1079.2L1802.0 1144.0L1811.4 995.4L1843.9 963.7L1850.2 983.5L1861.3 959.0L1889.7 1074.4L1896.1 1086.3L1910.3 1250.7L1917.4 1022.2L1925.3 1022.2L1935.6 1047.5L1950.6 1125.0L1961.2 1008.8L1984.6 1192.2L1989.4 1067.3L2019.8 1201.7L2028.2 1121.4L2033.7 1081.9L2044.8 1116.7L2059.8 1036.0L2090.7 1075.5L2094.6 1001.0L2103.3 973.5L2119.1 977.5L2131.0 1105.6L2138.9 987.0L2157.9 960.9L2159.5 1090.0L2165.0 1300.0L2170.5 1140.0L2172.1 1022.6L2179.2 1020.2L2201.4 1039.2L2210.1 955.4L2216.4 919.0L2226.7 1075.5L2236.2 1089.8L2248.8 990.9L2265.4 1009.1L2292.3 939.5L2292.3 1042.3L2263.0 1061.3L2248.8 1140.4L2237.7 1146.7L2226.7 1160.0L2214.0 1110.3L2207.7 1140.0L2201.4 1257.0L2174.5 1257.0L2171.0 1250.0L2165.0 1331.4L2157.9 1094.5L2141.3 1118.2L2134.0 1200.0L2129.4 1276.8L2124.0 1180.0L2119.1 1067.6L2101.7 1121.4L2096.2 1163.7L2094.6 1185.9L2089.1 1195.4L2044.0 1234.9L2020.3 1405.0L1986.2 1287.1L1970.4 1336.9L1961.7 1234.9L1951.4 1338.5L1935.6 1203.0L1925.3 1234.0L1916.0 1200.0L1910.3 1336.9L1894.5 1200.0L1888.2 1249.1L1850.2 1028.6L1813.0 1126.6L1809.9 1187.4L1802.8 1337.7L1788.5 1230.5L1767.2 1275.2L1750.6 1250.7L1737.9 1269.7L1732.4 1421.0L1714.1 1190.0L1696.7 1228.6L1683.3 1350.3L1668.0 1100.0L1665.0 1170.0L1659.6 1264.9L1647.7 1172.5L1641.4 1191.5L1592.3 1168.5L1557.5 1172.5L1544.1 1041.2L1530.7 1134.5L1520.4 1219.0L1514.1 1317.9L1508.5 1200.0L1502.0 1235.0L1482.4 1315.5L1478.0 1300.0Z" fill="#828282" stroke="#4a4a4a" stroke-width="1.2" stroke-linejoin="miter"/>
<path d="M1474.5 1390.7L1478.5 1244.4L1483.2 1268.0L1508.5 1140.8L1514.8 1216.0L1525.9 1074.4L1544.1 1026.2L1558.3 1091.0L1592.3 1069.7L1646.9 1114.8L1660.3 1168.5L1667.5 1047.5L1683.3 1318.7L1714.1 1102.9L1733.1 1300.5L1752.1 1186.7L1767.2 1223.0L1775.9 1172.0L1789.7 1172.0L1803.2 1218.0L1812.2 1033.3L1823.3 1030.9L1847.0 1004.8L1862.8 1004.8L1888.5 1209.2L1897.6 1118.7L1910.3 1320.3L1918.2 1104.5L1925.3 1159.4L1935.6 1121.9L1950.6 1268.1L1961.7 1116.3L1984.6 1276.0L1989.4 1207.5L2020.3 1320.0L2044.0 1159.2L2060.6 1153.6L2090.7 1113.5L2094.6 1059.7L2120.7 1026.5L2129.4 1203.3L2138.1 1042.3L2157.9 1016.2L2165.0 1329.8L2171.3 1143.5L2177.6 1145.9L2209.3 1089.8L2216.4 1005.2L2229.0 1133.3L2237.7 1132.5L2252.0 1097.7L2263.0 1037.6L2293.1 990.9" fill="none" stroke="#000" stroke-width="4.7" stroke-linejoin="miter" stroke-miterlimit="5"/>
<line x1="1473.7" y1="1186.7" x2="2293.1" y2="1108.4" stroke="#000" stroke-width="3.3"/>
<path d="M1471.6 2080.0L1471.6 1961.9L1477.2 1947.6L1480.3 1951.6L1485.1 1941.3L1501.7 1952.4L1508.0 1972.9L1515.9 1890.7L1520.7 1879.6L1538.1 1897.0L1550.7 1923.1L1587.1 1828.2L1632.9 1878.1L1639.3 1900.2L1651.9 1911.3L1656.7 1866.2L1661.4 1890.7L1676.4 2110.0L1694.6 1909.7L1707.3 1893.1L1724.7 1999.8L1734.2 1966.6L1743.4 1957.9L1760.0 1985.6L1766.4 1909.7L1793.3 1966.6L1805.1 1870.9L1815.4 1878.8L1836.0 1808.5L1843.9 1828.2L1853.4 1833.0L1861.3 1881.2L1880.2 2064.0L1889.7 2049.5L1902.4 2256.0L1907.9 1970.0L1916.6 1916.8L1926.1 1960.3L1941.1 1979.3L1948.2 1966.6L1953.0 1905.7L1961.7 1999.8L1980.7 1869.4L2010.7 2045.7L2024.2 1955.5L2036.9 2039.4L2043.2 1954.0L2050.3 1893.9L2079.6 1920.8L2085.1 1827.4L2094.6 1818.0L2111.2 1860.7L2112.8 1930.0L2121.0 2095.0L2130.2 1965.0L2147.6 1928.7L2150.0 2017.0L2155.5 2110.0L2161.0 1946.1L2169.7 1955.5L2190.3 2020.4L2206.1 1897.8L2217.2 2026.7L2225.1 2039.4L2239.3 1957.1L2255.1 1999.8L2280.4 1882.8L2282.0 1980.9L2261.5 2040.0L2239.3 2126.2L2226.7 2126.2L2207.7 2095.4L2197.4 2095.4L2191.9 2182.3L2171.3 2182.3L2161.8 2160.2L2155.5 2250.3L2150.0 2130.0L2147.6 2109.6L2130.2 2142.8L2120.2 2239.3L2114.4 2040.0L2111.2 1969.8L2108.0 1933.4L2095.4 1969.8L2084.3 1985.6L2082.7 2042.5L2049.5 2103.3L2036.9 2160.2L2011.5 2207.6L1985.0 2040.0L1975.0 2035.0L1970.4 2087.0L1961.7 2177.6L1953.8 2115.9L1947.5 2180.0L1927.7 2123.8L1908.7 2152.3L1902.4 2288.3L1888.1 2157.0L1880.2 2214.8L1864.4 2080.0L1859.7 2033.0L1840.7 1906.5L1836.0 1897.0L1818.6 2001.4L1807.5 2041.0L1799.6 2079.5L1794.0 2112.0L1779.0 2098.5L1765.6 2074.0L1760.0 2111.2L1745.0 2100.0L1731.0 2098.0L1724.7 2252.7L1707.3 2074.8L1690.0 2110.0L1676.4 2207.6L1663.0 2040.0L1659.0 2090.0L1653.5 2149.1L1639.3 2047.3L1633.7 2058.0L1587.1 2029.1L1552.3 2081.1L1538.1 1917.6L1528.6 1993.5L1523.8 2048.9L1520.0 2075.0L1513.0 2080.0L1508.3 2198.2L1503.0 2075.0L1500.0 2065.0L1484.3 2130.9L1474.0 2087.0L1471.6 2080.0Z" fill="#828282" stroke="#4a4a4a" stroke-width="1.2" stroke-linejoin="miter"/>
<path d="M1468.5 2228.0L1472.4 2014.0L1479.5 2033.0L1487.4 2028.3L1503.3 2003.8L1508.4 2075.0L1515.9 1958.0L1519.0 1943.0L1538.8 1906.5L1552.3 1993.5L1587.1 1906.5L1634.5 1958.7L1652.7 2014.1L1659.8 1924.7L1676.4 2177.6L1707.3 1969.0L1724.7 2065.8L1743.4 2037.8L1760.0 2045.7L1766.4 1968.2L1780.6 2017.2L1796.4 1993.5L1800.4 1947.6L1805.1 1917.6L1815.4 1927.1L1836.8 1836.9L1843.9 1860.7L1854.9 1878.1L1880.2 2139.6L1888.9 2087.4L1902.4 2272.5L1908.7 2080.0L1911.9 2041.0L1916.6 2025.1L1927.7 2039.4L1935.6 2064.7L1941.9 2086.0L1949.8 2086.0L1953.0 2003.0L1962.5 2101.7L1980.7 1947.6L2011.5 2133.3L2024.2 2084.3L2038.5 2081.1L2048.0 2007.7L2082.7 1958.7L2085.9 1874.9L2095.4 1871.7L2110.4 1898.6L2114.4 2033.0L2120.7 2171.3L2132.6 2036.2L2147.6 2001.4L2155.5 2206.1L2161.8 2044.1L2191.9 2092.2L2206.1 1979.3L2226.7 2093.8L2237.7 2054.2L2253.5 2039.4L2269.4 1977.7L2282.0 1923.9" fill="none" stroke="#000" stroke-width="4.7" stroke-linejoin="miter" stroke-miterlimit="5"/>
<line x1="1468.5" y1="2003.8" x2="2282.8" y2="2037" stroke="#000" stroke-width="3.3"/>
<g stroke="#000" stroke-width="6.3" fill="none" stroke-linecap="butt">
<line x1="208.3" y1="21.0" x2="208.3" y2="666.6"/>
<line x1="175.0" y1="634.3" x2="1123.7" y2="634.3"/>
</g>
<g stroke="#000" stroke-width="5.6" fill="none" stroke-linecap="butt">
<line x1="175.0" y1="24.1" x2="208.3" y2="24.1"/>
<line x1="190.3" y1="85.1" x2="208.3" y2="85.1"/>
<line x1="175.0" y1="146.1" x2="208.3" y2="146.1"/>
<line x1="190.3" y1="207.2" x2="208.3" y2="207.2"/>
<line x1="175.0" y1="268.2" x2="208.3" y2="268.2"/>
<line x1="190.3" y1="329.2" x2="208.3" y2="329.2"/>
<line x1="175.0" y1="390.2" x2="208.3" y2="390.2"/>
<line x1="190.3" y1="451.2" x2="208.3" y2="451.2"/>
<line x1="175.0" y1="512.3" x2="208.3" y2="512.3"/>
<line x1="190.3" y1="573.3" x2="208.3" y2="573.3"/>
<line x1="244.8" y1="634.3" x2="244.8" y2="650.8"/>
<line x1="281.3" y1="634.3" x2="281.3" y2="650.8"/>
<line x1="317.8" y1="634.3" x2="317.8" y2="650.8"/>
<line x1="354.3" y1="634.3" x2="354.3" y2="650.8"/>
<line x1="390.7" y1="634.3" x2="390.7" y2="666.6"/>
<line x1="427.2" y1="634.3" x2="427.2" y2="650.8"/>
<line x1="463.7" y1="634.3" x2="463.7" y2="650.8"/>
<line x1="500.2" y1="634.3" x2="500.2" y2="650.8"/>
<line x1="536.7" y1="634.3" x2="536.7" y2="650.8"/>
<line x1="573.2" y1="634.3" x2="573.2" y2="666.6"/>
<line x1="609.7" y1="634.3" x2="609.7" y2="650.8"/>
<line x1="646.2" y1="634.3" x2="646.2" y2="650.8"/>
<line x1="682.6" y1="634.3" x2="682.6" y2="650.8"/>
<line x1="719.1" y1="634.3" x2="719.1" y2="650.8"/>
<line x1="755.6" y1="634.3" x2="755.6" y2="666.6"/>
<line x1="792.1" y1="634.3" x2="792.1" y2="650.8"/>
<line x1="828.6" y1="634.3" x2="828.6" y2="650.8"/>
<line x1="865.1" y1="634.3" x2="865.1" y2="650.8"/>
<line x1="901.6" y1="634.3" x2="901.6" y2="650.8"/>
<line x1="938.1" y1="634.3" x2="938.1" y2="666.6"/>
<line x1="974.5" y1="634.3" x2="974.5" y2="650.8"/>
<line x1="1011.0" y1="634.3" x2="1011.0" y2="650.8"/>
<line x1="1047.5" y1="634.3" x2="1047.5" y2="650.8"/>
<line x1="1084.0" y1="634.3" x2="1084.0" y2="650.8"/>
<line x1="1120.5" y1="634.3" x2="1120.5" y2="666.6"/>
</g>
<g font-family='"Liberation Sans", Arial, Helvetica, sans-serif' font-size="51.5" fill="#000">
<text x="162.7" y="40.5" text-anchor="end" font-size="50.6">13.6</text>
<text x="162.7" y="162.5" text-anchor="end" font-size="50.6">13.2</text>
<text x="162.7" y="284.6" text-anchor="end" font-size="50.6">12.8</text>
<text x="162.7" y="406.6" text-anchor="end" font-size="50.6">12.4</text>
<text x="162.7" y="528.7" text-anchor="end" font-size="50.6">12.0</text>
<text x="162.7" y="650.7" text-anchor="end" font-size="50.6">11.6</text>
<text x="208.8" y="724.6" text-anchor="middle" font-size="51.5">1995</text>
<text x="391.2" y="724.6" text-anchor="middle" font-size="51.5">2000</text>
<text x="573.7" y="724.6" text-anchor="middle" font-size="51.5">2005</text>
<text x="756.1" y="724.6" text-anchor="middle" font-size="51.5">2010</text>
<text x="938.6" y="724.6" text-anchor="middle" font-size="51.5">2015</text>
<text x="1121.0" y="724.6" text-anchor="middle" font-size="51.5">2020</text>
</g>
<text x="662.6" y="786.2" text-anchor="middle" font-family='"Liberation Sans", Arial, Helvetica, sans-serif' font-size="55" fill="#000">time (yr)</text>
<text transform="translate(45.3,330.5) rotate(-90) scale(0.994,1)" text-anchor="middle" font-family='"Liberation Sans", Arial, Helvetica, sans-serif' font-size="55" fill="#000">pot. temperature (ºC)</text>
<text transform="translate(4.3,47.8) scale(1,1.045)" font-family='"Liberation Sans", Arial, Helvetica, sans-serif' font-weight="bold" font-size="61" fill="#000">A</text>
<g stroke="#000" stroke-width="6.3" fill="none" stroke-linecap="butt">
<line x1="1448.0" y1="21.0" x2="1448.0" y2="663.5"/>
<line x1="1414.7" y1="631.2" x2="2358.8" y2="631.2"/>
</g>
<g stroke="#000" stroke-width="5.6" fill="none" stroke-linecap="butt">
<line x1="1414.7" y1="24.1" x2="1448.0" y2="24.1"/>
<line x1="1430.0" y1="125.3" x2="1448.0" y2="125.3"/>
<line x1="1414.7" y1="226.5" x2="1448.0" y2="226.5"/>
<line x1="1430.0" y1="327.7" x2="1448.0" y2="327.7"/>
<line x1="1414.7" y1="428.8" x2="1448.0" y2="428.8"/>
<line x1="1430.0" y1="530.0" x2="1448.0" y2="530.0"/>
<line x1="1484.3" y1="631.2" x2="1484.3" y2="647.7"/>
<line x1="1520.6" y1="631.2" x2="1520.6" y2="647.7"/>
<line x1="1556.9" y1="631.2" x2="1556.9" y2="647.7"/>
<line x1="1593.2" y1="631.2" x2="1593.2" y2="647.7"/>
<line x1="1629.5" y1="631.2" x2="1629.5" y2="663.5"/>
<line x1="1665.8" y1="631.2" x2="1665.8" y2="647.7"/>
<line x1="1702.1" y1="631.2" x2="1702.1" y2="647.7"/>
<line x1="1738.4" y1="631.2" x2="1738.4" y2="647.7"/>
<line x1="1774.7" y1="631.2" x2="1774.7" y2="647.7"/>
<line x1="1811.0" y1="631.2" x2="1811.0" y2="663.5"/>
<line x1="1847.3" y1="631.2" x2="1847.3" y2="647.7"/>
<line x1="1883.6" y1="631.2" x2="1883.6" y2="647.7"/>
<line x1="1920.0" y1="631.2" x2="1920.0" y2="647.7"/>
<line x1="1956.3" y1="631.2" x2="1956.3" y2="647.7"/>
<line x1="1992.6" y1="631.2" x2="1992.6" y2="663.5"/>
<line x1="2028.9" y1="631.2" x2="2028.9" y2="647.7"/>
<line x1="2065.2" y1="631.2" x2="2065.2" y2="647.7"/>
<line x1="2101.5" y1="631.2" x2="2101.5" y2="647.7"/>
<line x1="2137.8" y1="631.2" x2="2137.8" y2="647.7"/>
<line x1="2174.1" y1="631.2" x2="2174.1" y2="663.5"/>
<line x1="2210.4" y1="631.2" x2="2210.4" y2="647.7"/>
<line x1="2246.7" y1="631.2" x2="2246.7" y2="647.7"/>
<line x1="2283.0" y1="631.2" x2="2283.0" y2="647.7"/>
<line x1="2319.3" y1="631.2" x2="2319.3" y2="647.7"/>
<line x1="2355.6" y1="631.2" x2="2355.6" y2="663.5"/>
</g>
<g font-family='"Liberation Sans", Arial, Helvetica, sans-serif' font-size="51.5" fill="#000">
<text x="1402.4" y="40.5" text-anchor="end" font-size="50.6">13.6</text>
<text x="1402.4" y="242.9" text-anchor="end" font-size="50.6">13.2</text>
<text x="1402.4" y="445.2" text-anchor="end" font-size="50.6">12.8</text>
<text x="1402.4" y="647.6" text-anchor="end" font-size="50.6">12.4</text>
<text x="1447.0" y="725.7" text-anchor="middle" font-size="54.0">1995</text>
<text x="1628.5" y="725.7" text-anchor="middle" font-size="54.0">2000</text>
<text x="1810.0" y="725.7" text-anchor="middle" font-size="54.0">2005</text>
<text x="1991.6" y="725.7" text-anchor="middle" font-size="54.0">2010</text>
<text x="2173.1" y="725.7" text-anchor="middle" font-size="54.0">2015</text>
<text x="2354.6" y="725.7" text-anchor="middle" font-size="54.0">2020</text>
</g>
<text x="1900.0" y="787.8" text-anchor="middle" font-family='"Liberation Sans", Arial, Helvetica, sans-serif' font-size="55" fill="#000">time (yr)</text>
<text transform="translate(1285.8,330.5) rotate(-90) scale(0.994,1)" text-anchor="middle" font-family='"Liberation Sans", Arial, Helvetica, sans-serif' font-size="55" fill="#000">pot. temperature (ºC)</text>
<text transform="translate(1205.9,47.8) scale(1,1.045)" font-family='"Liberation Sans", Arial, Helvetica, sans-serif' font-weight="bold" font-size="61" fill="#000">B</text>
<g stroke="#000" stroke-width="6.3" fill="none" stroke-linecap="butt">
<line x1="208.3" y1="863.9" x2="208.3" y2="1509.0"/>
<line x1="175.0" y1="1476.7" x2="1123.7" y2="1476.7"/>
</g>
<g stroke="#000" stroke-width="5.6" fill="none" stroke-linecap="butt">
<line x1="175.0" y1="867.0" x2="208.3" y2="867.0"/>
<line x1="190.3" y1="928.0" x2="208.3" y2="928.0"/>
<line x1="175.0" y1="988.9" x2="208.3" y2="988.9"/>
<line x1="190.3" y1="1049.9" x2="208.3" y2="1049.9"/>
<line x1="175.0" y1="1110.9" x2="208.3" y2="1110.9"/>
<line x1="190.3" y1="1171.8" x2="208.3" y2="1171.8"/>
<line x1="175.0" y1="1232.8" x2="208.3" y2="1232.8"/>
<line x1="190.3" y1="1293.8" x2="208.3" y2="1293.8"/>
<line x1="175.0" y1="1354.8" x2="208.3" y2="1354.8"/>
<line x1="190.3" y1="1415.7" x2="208.3" y2="1415.7"/>
<line x1="244.8" y1="1476.7" x2="244.8" y2="1493.2"/>
<line x1="281.3" y1="1476.7" x2="281.3" y2="1493.2"/>
<line x1="317.8" y1="1476.7" x2="317.8" y2="1493.2"/>
<line x1="354.3" y1="1476.7" x2="354.3" y2="1493.2"/>
<line x1="390.7" y1="1476.7" x2="390.7" y2="1509.0"/>
<line x1="427.2" y1="1476.7" x2="427.2" y2="1493.2"/>
<line x1="463.7" y1="1476.7" x2="463.7" y2="1493.2"/>
<line x1="500.2" y1="1476.7" x2="500.2" y2="1493.2"/>
<line x1="536.7" y1="1476.7" x2="536.7" y2="1493.2"/>
<line x1="573.2" y1="1476.7" x2="573.2" y2="1509.0"/>
<line x1="609.7" y1="1476.7" x2="609.7" y2="1493.2"/>
<line x1="646.2" y1="1476.7" x2="646.2" y2="1493.2"/>
<line x1="682.6" y1="1476.7" x2="682.6" y2="1493.2"/>
<line x1="719.1" y1="1476.7" x2="719.1" y2="1493.2"/>
<line x1="755.6" y1="1476.7" x2="755.6" y2="1509.0"/>
<line x1="792.1" y1="1476.7" x2="792.1" y2="1493.2"/>
<line x1="828.6" y1="1476.7" x2="828.6" y2="1493.2"/>
<line x1="865.1" y1="1476.7" x2="865.1" y2="1493.2"/>
<line x1="901.6" y1="1476.7" x2="901.6" y2="1493.2"/>
<line x1="938.1" y1="1476.7" x2="938.1" y2="1509.0"/>
<line x1="974.5" y1="1476.7" x2="974.5" y2="1493.2"/>
<line x1="1011.0" y1="1476.7" x2="1011.0" y2="1493.2"/>
<line x1="1047.5" y1="1476.7" x2="1047.5" y2="1493.2"/>
<line x1="1084.0" y1="1476.7" x2="1084.0" y2="1493.2"/>
<line x1="1120.5" y1="1476.7" x2="1120.5" y2="1509.0"/>
</g>
<g font-family='"Liberation Sans", Arial, Helvetica, sans-serif' font-size="51.5" fill="#000">
<text x="162.7" y="883.4" text-anchor="end" font-size="50.6">38.6</text>
<text x="162.7" y="1005.3" text-anchor="end" font-size="50.6">38.4</text>
<text x="162.7" y="1127.3" text-anchor="end" font-size="50.6">38.2</text>
<text x="162.7" y="1249.2" text-anchor="end" font-size="50.6">38.0</text>
<text x="162.7" y="1371.2" text-anchor="end" font-size="50.6">37.8</text>
<text x="162.7" y="1493.1" text-anchor="end" font-size="50.6">37.6</text>
<text x="208.8" y="1566.2" text-anchor="middle" font-size="51.5">1995</text>
<text x="391.2" y="1566.2" text-anchor="middle" font-size="51.5">2000</text>
<text x="573.7" y="1566.2" text-anchor="middle" font-size="51.5">2005</text>
<text x="756.1" y="1566.2" text-anchor="middle" font-size="51.5">2010</text>
<text x="938.6" y="1566.2" text-anchor="middle" font-size="51.5">2015</text>
<text x="1121.0" y="1566.2" text-anchor="middle" font-size="51.5">2020</text>
</g>
<text x="662.6" y="1628.7" text-anchor="middle" font-family='"Liberation Sans", Arial, Helvetica, sans-serif' font-size="55" fill="#000">time (yr)</text>
<text transform="translate(44.6,1172.4) rotate(-90) scale(0.963,1)" text-anchor="middle" font-family='"Liberation Sans", Arial, Helvetica, sans-serif' font-size="55" fill="#000">salinity</text>
<text transform="translate(2.9,839.3) scale(1,1.045)" font-family='"Liberation Sans", Arial, Helvetica, sans-serif' font-weight="bold" font-size="61" fill="#000">C</text>
<g stroke="#000" stroke-width="6.3" fill="none" stroke-linecap="butt">
<line x1="1433.3" y1="863.9" x2="1433.3" y2="1505.8"/>
<line x1="1400.0" y1="1473.5" x2="2345.0" y2="1473.5"/>
</g>
<g stroke="#000" stroke-width="5.6" fill="none" stroke-linecap="butt">
<line x1="1400.0" y1="867.0" x2="1433.3" y2="867.0"/>
<line x1="1415.3" y1="927.6" x2="1433.3" y2="927.6"/>
<line x1="1400.0" y1="988.3" x2="1433.3" y2="988.3"/>
<line x1="1415.3" y1="1049.0" x2="1433.3" y2="1049.0"/>
<line x1="1400.0" y1="1109.6" x2="1433.3" y2="1109.6"/>
<line x1="1415.3" y1="1170.2" x2="1433.3" y2="1170.2"/>
<line x1="1400.0" y1="1230.9" x2="1433.3" y2="1230.9"/>
<line x1="1415.3" y1="1291.5" x2="1433.3" y2="1291.5"/>
<line x1="1400.0" y1="1352.2" x2="1433.3" y2="1352.2"/>
<line x1="1415.3" y1="1412.8" x2="1433.3" y2="1412.8"/>
<line x1="1469.6" y1="1473.5" x2="1469.6" y2="1490.0"/>
<line x1="1506.0" y1="1473.5" x2="1506.0" y2="1490.0"/>
<line x1="1542.3" y1="1473.5" x2="1542.3" y2="1490.0"/>
<line x1="1578.7" y1="1473.5" x2="1578.7" y2="1490.0"/>
<line x1="1615.0" y1="1473.5" x2="1615.0" y2="1505.8"/>
<line x1="1651.3" y1="1473.5" x2="1651.3" y2="1490.0"/>
<line x1="1687.7" y1="1473.5" x2="1687.7" y2="1490.0"/>
<line x1="1724.0" y1="1473.5" x2="1724.0" y2="1490.0"/>
<line x1="1760.4" y1="1473.5" x2="1760.4" y2="1490.0"/>
<line x1="1796.7" y1="1473.5" x2="1796.7" y2="1505.8"/>
<line x1="1833.0" y1="1473.5" x2="1833.0" y2="1490.0"/>
<line x1="1869.4" y1="1473.5" x2="1869.4" y2="1490.0"/>
<line x1="1905.7" y1="1473.5" x2="1905.7" y2="1490.0"/>
<line x1="1942.1" y1="1473.5" x2="1942.1" y2="1490.0"/>
<line x1="1978.4" y1="1473.5" x2="1978.4" y2="1505.8"/>
<line x1="2014.7" y1="1473.5" x2="2014.7" y2="1490.0"/>
<line x1="2051.1" y1="1473.5" x2="2051.1" y2="1490.0"/>
<line x1="2087.4" y1="1473.5" x2="2087.4" y2="1490.0"/>
<line x1="2123.8" y1="1473.5" x2="2123.8" y2="1490.0"/>
<line x1="2160.1" y1="1473.5" x2="2160.1" y2="1505.8"/>
<line x1="2196.4" y1="1473.5" x2="2196.4" y2="1490.0"/>
<line x1="2232.8" y1="1473.5" x2="2232.8" y2="1490.0"/>
<line x1="2269.1" y1="1473.5" x2="2269.1" y2="1490.0"/>
<line x1="2305.5" y1="1473.5" x2="2305.5" y2="1490.0"/>
<line x1="2341.8" y1="1473.5" x2="2341.8" y2="1505.8"/>
</g>
<g font-family='"Liberation Sans", Arial, Helvetica, sans-serif' font-size="51.5" fill="#000">
<text x="1387.7" y="883.4" text-anchor="end" font-size="50.6">38.5</text>
<text x="1387.7" y="1004.7" text-anchor="end" font-size="50.6">38.4</text>
<text x="1387.7" y="1126.0" text-anchor="end" font-size="50.6">38.3</text>
<text x="1387.7" y="1247.3" text-anchor="end" font-size="50.6">38.2</text>
<text x="1387.7" y="1368.6" text-anchor="end" font-size="50.6">38.1</text>
<text x="1387.7" y="1489.9" text-anchor="end" font-size="50.6">38.0</text>
<text x="1431.8" y="1566.9" text-anchor="middle" font-size="54.0">1995</text>
<text x="1613.5" y="1566.9" text-anchor="middle" font-size="54.0">2000</text>
<text x="1795.2" y="1566.9" text-anchor="middle" font-size="54.0">2005</text>
<text x="1976.9" y="1566.9" text-anchor="middle" font-size="54.0">2010</text>
<text x="2158.6" y="1566.9" text-anchor="middle" font-size="54.0">2015</text>
<text x="2340.3" y="1566.9" text-anchor="middle" font-size="54.0">2020</text>
</g>
<text x="1885.8" y="1628.6" text-anchor="middle" font-family='"Liberation Sans", Arial, Helvetica, sans-serif' font-size="55" fill="#000">time (yr)</text>
<text transform="translate(1269.9,1171.5) rotate(-90) scale(0.963,1)" text-anchor="middle" font-family='"Liberation Sans", Arial, Helvetica, sans-serif' font-size="55" fill="#000">salinity</text>
<text transform="translate(1205.9,839.1) scale(1,1.045)" font-family='"Liberation Sans", Arial, Helvetica, sans-serif' font-weight="bold" font-size="61" fill="#000">D</text>
<g stroke="#000" stroke-width="6.3" fill="none" stroke-linecap="butt">
<line x1="213.1" y1="1719.4" x2="213.1" y2="2361.9"/>
<line x1="179.8" y1="2329.6" x2="1124.2" y2="2329.6"/>
</g>
<g stroke="#000" stroke-width="5.6" fill="none" stroke-linecap="butt">
<line x1="179.8" y1="1722.6" x2="213.1" y2="1722.6"/>
<line x1="195.1" y1="1823.8" x2="213.1" y2="1823.8"/>
<line x1="179.8" y1="1924.9" x2="213.1" y2="1924.9"/>
<line x1="195.1" y1="2026.1" x2="213.1" y2="2026.1"/>
<line x1="179.8" y1="2127.3" x2="213.1" y2="2127.3"/>
<line x1="195.1" y1="2228.4" x2="213.1" y2="2228.4"/>
<line x1="249.4" y1="2329.6" x2="249.4" y2="2346.1"/>
<line x1="285.7" y1="2329.6" x2="285.7" y2="2346.1"/>
<line x1="322.0" y1="2329.6" x2="322.0" y2="2346.1"/>
<line x1="358.4" y1="2329.6" x2="358.4" y2="2346.1"/>
<line x1="394.7" y1="2329.6" x2="394.7" y2="2361.9"/>
<line x1="431.0" y1="2329.6" x2="431.0" y2="2346.1"/>
<line x1="467.3" y1="2329.6" x2="467.3" y2="2346.1"/>
<line x1="503.6" y1="2329.6" x2="503.6" y2="2346.1"/>
<line x1="539.9" y1="2329.6" x2="539.9" y2="2346.1"/>
<line x1="576.3" y1="2329.6" x2="576.3" y2="2361.9"/>
<line x1="612.6" y1="2329.6" x2="612.6" y2="2346.1"/>
<line x1="648.9" y1="2329.6" x2="648.9" y2="2346.1"/>
<line x1="685.2" y1="2329.6" x2="685.2" y2="2346.1"/>
<line x1="721.5" y1="2329.6" x2="721.5" y2="2346.1"/>
<line x1="757.8" y1="2329.6" x2="757.8" y2="2361.9"/>
<line x1="794.2" y1="2329.6" x2="794.2" y2="2346.1"/>
<line x1="830.5" y1="2329.6" x2="830.5" y2="2346.1"/>
<line x1="866.8" y1="2329.6" x2="866.8" y2="2346.1"/>
<line x1="903.1" y1="2329.6" x2="903.1" y2="2346.1"/>
<line x1="939.4" y1="2329.6" x2="939.4" y2="2361.9"/>
<line x1="975.7" y1="2329.6" x2="975.7" y2="2346.1"/>
<line x1="1012.1" y1="2329.6" x2="1012.1" y2="2346.1"/>
<line x1="1048.4" y1="2329.6" x2="1048.4" y2="2346.1"/>
<line x1="1084.7" y1="2329.6" x2="1084.7" y2="2346.1"/>
<line x1="1121.0" y1="2329.6" x2="1121.0" y2="2361.9"/>
</g>
<g font-family='"Liberation Sans", Arial, Helvetica, sans-serif' font-size="51.5" fill="#000">
<text x="167.5" y="1739.0" text-anchor="end" font-size="50.6">29.1</text>
<text x="167.5" y="1941.3" text-anchor="end" font-size="50.6">29.0</text>
<text x="167.5" y="2143.7" text-anchor="end" font-size="50.6">28.9</text>
<text x="167.5" y="2346.0" text-anchor="end" font-size="50.6">28.8</text>
<text x="213.6" y="2418.8" text-anchor="middle" font-size="51.5">1995</text>
<text x="395.2" y="2418.8" text-anchor="middle" font-size="51.5">2000</text>
<text x="576.8" y="2418.8" text-anchor="middle" font-size="51.5">2005</text>
<text x="758.3" y="2418.8" text-anchor="middle" font-size="51.5">2010</text>
<text x="939.9" y="2418.8" text-anchor="middle" font-size="51.5">2015</text>
<text x="1121.5" y="2418.8" text-anchor="middle" font-size="51.5">2020</text>
</g>
<text x="665.2" y="2479.7" text-anchor="middle" font-family='"Liberation Sans", Arial, Helvetica, sans-serif' font-size="55" fill="#000">time (yr)</text>
<text transform="translate(51,2024.7) rotate(-90) scale(0.963,1)" text-anchor="middle" font-family='"Liberation Sans", Arial, Helvetica, sans-serif' font-size="55" fill="#000">sigma-<tspan font-family="'Liberation Serif', serif" font-size="56.1">θ</tspan></text>
<text transform="translate(1.8,1676.0) scale(1,1.045)" font-family='"Liberation Sans", Arial, Helvetica, sans-serif' font-weight="bold" font-size="61" fill="#000">E</text>
<g stroke="#000" stroke-width="6.3" fill="none" stroke-linecap="butt">
<line x1="1427.7" y1="1717.8" x2="1427.7" y2="2357.9"/>
<line x1="1394.4" y1="2325.6" x2="2334.2" y2="2325.6"/>
</g>
<g stroke="#000" stroke-width="5.6" fill="none" stroke-linecap="butt">
<line x1="1394.4" y1="1721.0" x2="1427.7" y2="1721.0"/>
<line x1="1409.7" y1="1796.6" x2="1427.7" y2="1796.6"/>
<line x1="1394.4" y1="1872.2" x2="1427.7" y2="1872.2"/>
<line x1="1409.7" y1="1947.7" x2="1427.7" y2="1947.7"/>
<line x1="1394.4" y1="2023.3" x2="1427.7" y2="2023.3"/>
<line x1="1409.7" y1="2098.9" x2="1427.7" y2="2098.9"/>
<line x1="1394.4" y1="2174.4" x2="1427.7" y2="2174.4"/>
<line x1="1409.7" y1="2250.0" x2="1427.7" y2="2250.0"/>
<line x1="1463.8" y1="2325.6" x2="1463.8" y2="2342.1"/>
<line x1="1500.0" y1="2325.6" x2="1500.0" y2="2342.1"/>
<line x1="1536.1" y1="2325.6" x2="1536.1" y2="2342.1"/>
<line x1="1572.2" y1="2325.6" x2="1572.2" y2="2342.1"/>
<line x1="1608.4" y1="2325.6" x2="1608.4" y2="2357.9"/>
<line x1="1644.5" y1="2325.6" x2="1644.5" y2="2342.1"/>
<line x1="1680.7" y1="2325.6" x2="1680.7" y2="2342.1"/>
<line x1="1716.8" y1="2325.6" x2="1716.8" y2="2342.1"/>
<line x1="1752.9" y1="2325.6" x2="1752.9" y2="2342.1"/>
<line x1="1789.1" y1="2325.6" x2="1789.1" y2="2357.9"/>
<line x1="1825.2" y1="2325.6" x2="1825.2" y2="2342.1"/>
<line x1="1861.3" y1="2325.6" x2="1861.3" y2="2342.1"/>
<line x1="1897.5" y1="2325.6" x2="1897.5" y2="2342.1"/>
<line x1="1933.6" y1="2325.6" x2="1933.6" y2="2342.1"/>
<line x1="1969.7" y1="2325.6" x2="1969.7" y2="2357.9"/>
<line x1="2005.9" y1="2325.6" x2="2005.9" y2="2342.1"/>
<line x1="2042.0" y1="2325.6" x2="2042.0" y2="2342.1"/>
<line x1="2078.1" y1="2325.6" x2="2078.1" y2="2342.1"/>
<line x1="2114.3" y1="2325.6" x2="2114.3" y2="2342.1"/>
<line x1="2150.4" y1="2325.6" x2="2150.4" y2="2357.9"/>
<line x1="2186.6" y1="2325.6" x2="2186.6" y2="2342.1"/>
<line x1="2222.7" y1="2325.6" x2="2222.7" y2="2342.1"/>
<line x1="2258.8" y1="2325.6" x2="2258.8" y2="2342.1"/>
<line x1="2295.0" y1="2325.6" x2="2295.0" y2="2342.1"/>
<line x1="2331.1" y1="2325.6" x2="2331.1" y2="2357.9"/>
</g>
<g font-family='"Liberation Sans", Arial, Helvetica, sans-serif' font-size="51.5" fill="#000">
<text x="1382.1" y="1737.4" text-anchor="end" font-size="50.6">29.1</text>
<text x="1382.1" y="1888.6" text-anchor="end" font-size="50.6">29.0</text>
<text x="1382.1" y="2039.7" text-anchor="end" font-size="50.6">28.9</text>
<text x="1382.1" y="2190.8" text-anchor="end" font-size="50.6">28.8</text>
<text x="1382.1" y="2342.0" text-anchor="end" font-size="50.6">28.7</text>
<text x="1426.2" y="2418.8" text-anchor="middle" font-size="54.0">1995</text>
<text x="1606.9" y="2418.8" text-anchor="middle" font-size="54.0">2000</text>
<text x="1787.6" y="2418.8" text-anchor="middle" font-size="54.0">2005</text>
<text x="1968.2" y="2418.8" text-anchor="middle" font-size="54.0">2010</text>
<text x="2148.9" y="2418.8" text-anchor="middle" font-size="54.0">2015</text>
<text x="2329.6" y="2418.8" text-anchor="middle" font-size="54.0">2020</text>
</g>
<text x="1877.6" y="2479.7" text-anchor="middle" font-family='"Liberation Sans", Arial, Helvetica, sans-serif' font-size="55" fill="#000">time (yr)</text>
<text transform="translate(1265.9,2022.8) rotate(-90) scale(0.963,1)" text-anchor="middle" font-family='"Liberation Sans", Arial, Helvetica, sans-serif' font-size="55" fill="#000">sigma-<tspan font-family="'Liberation Serif', serif" font-size="56.1">θ</tspan></text>
<text transform="translate(1205.3,1676.0) scale(1,1.045)" font-family='"Liberation Sans", Arial, Helvetica, sans-serif' font-weight="bold" font-size="61" fill="#000">F</text>
</svg>
</body></html>
